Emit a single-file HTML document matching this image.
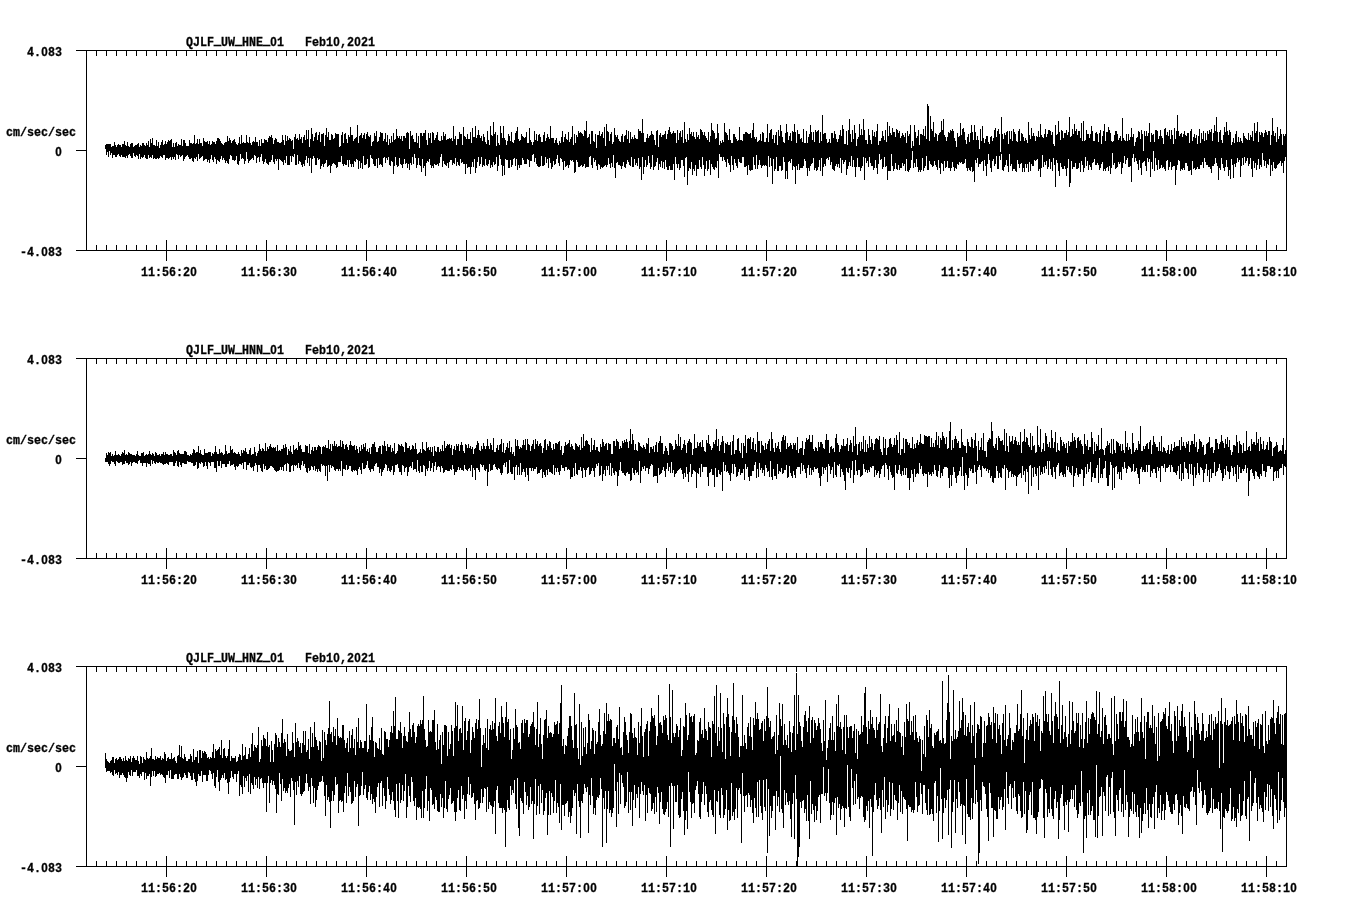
<!DOCTYPE html>
<html lang="en"><head><meta charset="utf-8"><title>QJLF UW strong motion Feb10,2021</title>
<style>
html,body{margin:0;padding:0;background:#fff;}
body{width:1358px;height:924px;overflow:hidden;}
svg{display:block;filter:grayscale(1);}
text{font-family:"Liberation Mono", monospace;font-weight:bold;fill:#000;text-anchor:middle;stroke:#000;stroke-width:0.3;}
.z{font-family:"Liberation Sans",sans-serif;}
.u{stroke-width:1;}
.ax{fill:#000;shape-rendering:crispEdges;}
.tr{fill:none;stroke:#000;stroke-width:1;shape-rendering:crispEdges;}
</style></head>
<body>
<svg width="1358" height="924" viewBox="0 0 1358 924">
<rect width="1358" height="924" fill="#fff"/>
<g id="panel-hne">
<path class="ax" d="M76 50h1211v1h-1211zM76 250h1211v1h-1211zM86 50h1v201h-1zM1286 50h1v201h-1zM76 150h10v1h-10zM96 51h1v5h-1zM96 245h1v5h-1zM106 51h1v5h-1zM106 245h1v5h-1zM116 51h1v5h-1zM116 245h1v5h-1zM126 51h1v5h-1zM126 245h1v5h-1zM136 51h1v5h-1zM136 245h1v5h-1zM146 51h1v5h-1zM146 245h1v5h-1zM156 51h1v5h-1zM156 245h1v5h-1zM166 51h1v5h-1zM166 240h1v21h-1zM176 51h1v5h-1zM176 245h1v5h-1zM186 51h1v5h-1zM186 245h1v5h-1zM196 51h1v5h-1zM196 245h1v5h-1zM206 51h1v5h-1zM206 245h1v5h-1zM216 51h1v5h-1zM216 245h1v5h-1zM226 51h1v5h-1zM226 245h1v5h-1zM236 51h1v5h-1zM236 245h1v5h-1zM246 51h1v5h-1zM246 245h1v5h-1zM256 51h1v5h-1zM256 245h1v5h-1zM266 51h1v5h-1zM266 240h1v21h-1zM276 51h1v5h-1zM276 245h1v5h-1zM286 51h1v5h-1zM286 245h1v5h-1zM296 51h1v5h-1zM296 245h1v5h-1zM306 51h1v5h-1zM306 245h1v5h-1zM316 51h1v5h-1zM316 245h1v5h-1zM326 51h1v5h-1zM326 245h1v5h-1zM336 51h1v5h-1zM336 245h1v5h-1zM346 51h1v5h-1zM346 245h1v5h-1zM356 51h1v5h-1zM356 245h1v5h-1zM366 51h1v5h-1zM366 240h1v21h-1zM376 51h1v5h-1zM376 245h1v5h-1zM386 51h1v5h-1zM386 245h1v5h-1zM396 51h1v5h-1zM396 245h1v5h-1zM406 51h1v5h-1zM406 245h1v5h-1zM416 51h1v5h-1zM416 245h1v5h-1zM426 51h1v5h-1zM426 245h1v5h-1zM436 51h1v5h-1zM436 245h1v5h-1zM446 51h1v5h-1zM446 245h1v5h-1zM456 51h1v5h-1zM456 245h1v5h-1zM466 51h1v5h-1zM466 240h1v21h-1zM476 51h1v5h-1zM476 245h1v5h-1zM486 51h1v5h-1zM486 245h1v5h-1zM496 51h1v5h-1zM496 245h1v5h-1zM506 51h1v5h-1zM506 245h1v5h-1zM516 51h1v5h-1zM516 245h1v5h-1zM526 51h1v5h-1zM526 245h1v5h-1zM536 51h1v5h-1zM536 245h1v5h-1zM546 51h1v5h-1zM546 245h1v5h-1zM556 51h1v5h-1zM556 245h1v5h-1zM566 51h1v5h-1zM566 240h1v21h-1zM576 51h1v5h-1zM576 245h1v5h-1zM586 51h1v5h-1zM586 245h1v5h-1zM596 51h1v5h-1zM596 245h1v5h-1zM606 51h1v5h-1zM606 245h1v5h-1zM616 51h1v5h-1zM616 245h1v5h-1zM626 51h1v5h-1zM626 245h1v5h-1zM636 51h1v5h-1zM636 245h1v5h-1zM646 51h1v5h-1zM646 245h1v5h-1zM656 51h1v5h-1zM656 245h1v5h-1zM666 51h1v5h-1zM666 240h1v21h-1zM676 51h1v5h-1zM676 245h1v5h-1zM686 51h1v5h-1zM686 245h1v5h-1zM696 51h1v5h-1zM696 245h1v5h-1zM706 51h1v5h-1zM706 245h1v5h-1zM716 51h1v5h-1zM716 245h1v5h-1zM726 51h1v5h-1zM726 245h1v5h-1zM736 51h1v5h-1zM736 245h1v5h-1zM746 51h1v5h-1zM746 245h1v5h-1zM756 51h1v5h-1zM756 245h1v5h-1zM766 51h1v5h-1zM766 240h1v21h-1zM776 51h1v5h-1zM776 245h1v5h-1zM786 51h1v5h-1zM786 245h1v5h-1zM796 51h1v5h-1zM796 245h1v5h-1zM806 51h1v5h-1zM806 245h1v5h-1zM816 51h1v5h-1zM816 245h1v5h-1zM826 51h1v5h-1zM826 245h1v5h-1zM836 51h1v5h-1zM836 245h1v5h-1zM846 51h1v5h-1zM846 245h1v5h-1zM856 51h1v5h-1zM856 245h1v5h-1zM866 51h1v5h-1zM866 240h1v21h-1zM876 51h1v5h-1zM876 245h1v5h-1zM886 51h1v5h-1zM886 245h1v5h-1zM896 51h1v5h-1zM896 245h1v5h-1zM906 51h1v5h-1zM906 245h1v5h-1zM916 51h1v5h-1zM916 245h1v5h-1zM926 51h1v5h-1zM926 245h1v5h-1zM936 51h1v5h-1zM936 245h1v5h-1zM946 51h1v5h-1zM946 245h1v5h-1zM956 51h1v5h-1zM956 245h1v5h-1zM966 51h1v5h-1zM966 240h1v21h-1zM976 51h1v5h-1zM976 245h1v5h-1zM986 51h1v5h-1zM986 245h1v5h-1zM996 51h1v5h-1zM996 245h1v5h-1zM1006 51h1v5h-1zM1006 245h1v5h-1zM1016 51h1v5h-1zM1016 245h1v5h-1zM1026 51h1v5h-1zM1026 245h1v5h-1zM1036 51h1v5h-1zM1036 245h1v5h-1zM1046 51h1v5h-1zM1046 245h1v5h-1zM1056 51h1v5h-1zM1056 245h1v5h-1zM1066 51h1v5h-1zM1066 240h1v21h-1zM1076 51h1v5h-1zM1076 245h1v5h-1zM1086 51h1v5h-1zM1086 245h1v5h-1zM1096 51h1v5h-1zM1096 245h1v5h-1zM1106 51h1v5h-1zM1106 245h1v5h-1zM1116 51h1v5h-1zM1116 245h1v5h-1zM1126 51h1v5h-1zM1126 245h1v5h-1zM1136 51h1v5h-1zM1136 245h1v5h-1zM1146 51h1v5h-1zM1146 245h1v5h-1zM1156 51h1v5h-1zM1156 245h1v5h-1zM1166 51h1v5h-1zM1166 240h1v21h-1zM1176 51h1v5h-1zM1176 245h1v5h-1zM1186 51h1v5h-1zM1186 245h1v5h-1zM1196 51h1v5h-1zM1196 245h1v5h-1zM1206 51h1v5h-1zM1206 245h1v5h-1zM1216 51h1v5h-1zM1216 245h1v5h-1zM1226 51h1v5h-1zM1226 245h1v5h-1zM1236 51h1v5h-1zM1236 245h1v5h-1zM1246 51h1v5h-1zM1246 245h1v5h-1zM1256 51h1v5h-1zM1256 245h1v5h-1zM1266 51h1v5h-1zM1266 240h1v21h-1zM1276 51h1v5h-1zM1276 245h1v5h-1z"/>
<path class="tr" d="M105.5 145V149M106.5 144V155M107.5 144V152M108.5 144V157M109.5 144V151M110.5 144V155M111.5 147V153M112.5 146V158M113.5 146V155M114.5 142V155M115.5 145V157M116.5 147V157M117.5 145V155M118.5 144V154M119.5 145V156M120.5 145V157M121.5 147V155M122.5 144V157M123.5 144V157M124.5 141V157M125.5 145V158M126.5 146V156M127.5 142V158M128.5 146V155M129.5 147V154M130.5 144V156M131.5 143V158M132.5 143V158M133.5 147V153M134.5 146V156M135.5 145V157M136.5 145V155M137.5 144V156M138.5 143V159M139.5 147V154M140.5 145V159M141.5 146V157M142.5 143V158M143.5 143V157M144.5 145V155M145.5 146V158M146.5 143V159M147.5 145V159M148.5 141V155M149.5 147V158M150.5 139V157M151.5 143V158M152.5 138V155M153.5 145V159M154.5 145V158M155.5 146V159M156.5 140V159M157.5 146V158M158.5 142V159M159.5 148V158M160.5 145V156M161.5 142V157M162.5 140V158M163.5 145V155M164.5 144V155M165.5 141V160M166.5 144V158M167.5 142V158M168.5 140V159M169.5 141V158M170.5 140V157M171.5 139V160M172.5 147V157M173.5 143V159M174.5 147V157M175.5 143V160M176.5 142V154M177.5 146V155M178.5 144V159M179.5 145V155M180.5 145V157M181.5 139V156M182.5 146V155M183.5 140V161M184.5 140V159M185.5 143V157M186.5 146V156M187.5 146V155M188.5 146V157M189.5 140V159M190.5 143V159M191.5 143V158M192.5 144V161M193.5 143V162M194.5 135V158M195.5 144V159M196.5 143V157M197.5 139V161M198.5 144V154M199.5 139V159M200.5 143V158M201.5 143V157M202.5 146V156M203.5 138V161M204.5 141V160M205.5 142V159M206.5 142V159M207.5 141V162M208.5 144V160M209.5 141V163M210.5 145V159M211.5 144V155M212.5 141V160M213.5 142V162M214.5 142V157M215.5 144V159M216.5 141V164M217.5 138V160M218.5 138V161M219.5 139V162M220.5 141V159M221.5 143V156M222.5 144V160M223.5 145V158M224.5 143V160M225.5 142V163M226.5 142V161M227.5 136V163M228.5 141V164M229.5 138V159M230.5 140V155M231.5 143V156M232.5 141V160M233.5 140V160M234.5 139V161M235.5 142V160M236.5 144V156M237.5 145V164M238.5 143V165M239.5 137V161M240.5 144V154M241.5 135V159M242.5 143V158M243.5 142V159M244.5 143V164M245.5 143V161M246.5 135V152M247.5 142V159M248.5 143V163M249.5 137V161M250.5 143V160M251.5 145V159M252.5 142V158M253.5 141V160M254.5 142V155M255.5 137V156M256.5 142V163M257.5 142V158M258.5 146V157M259.5 140V162M260.5 146V157M261.5 139V154M262.5 143V161M263.5 143V164M264.5 139V162M265.5 140V159M266.5 140V163M267.5 142V164M268.5 138V165M269.5 136V162M270.5 137V162M271.5 135V160M272.5 138V155M273.5 144V162M274.5 140V164M275.5 138V159M276.5 139V161M277.5 142V159M278.5 142V170M279.5 143V159M280.5 143V160M281.5 142V161M282.5 135V162M283.5 140V165M284.5 145V160M285.5 135V163M286.5 141V156M287.5 136V165M288.5 140V165M289.5 138V165M290.5 139V156M291.5 141V162M292.5 140V156M293.5 149V157M294.5 137V154M295.5 134V165M296.5 139V165M297.5 138V155M298.5 140V164M299.5 134V161M300.5 139V162M301.5 137V165M302.5 143V167M303.5 137V164M304.5 135V166M305.5 140V160M306.5 130V156M307.5 139V163M308.5 130V158M309.5 147V166M310.5 139V158M311.5 128V173M312.5 134V159M313.5 141V156M314.5 137V158M315.5 133V165M316.5 132V165M317.5 140V158M318.5 135V160M319.5 132V159M320.5 142V169M321.5 134V166M322.5 134V164M323.5 133V167M324.5 146V164M325.5 135V163M326.5 128V160M327.5 137V167M328.5 132V166M329.5 140V165M330.5 140V173M331.5 134V166M332.5 135V164M333.5 139V163M334.5 138V164M335.5 133V165M336.5 134V168M337.5 134V167M338.5 134V162M339.5 147V162M340.5 146V162M341.5 135V156M342.5 132V164M343.5 143V166M344.5 134V164M345.5 133V165M346.5 139V165M347.5 143V160M348.5 135V167M349.5 137V160M350.5 127V164M351.5 135V167M352.5 135V164M353.5 141V167M354.5 139V161M355.5 138V162M356.5 137V159M357.5 125V160M358.5 143V169M359.5 136V161M360.5 135V168M361.5 133V163M362.5 138V169M363.5 135V156M364.5 133V165M365.5 139V165M366.5 134V164M367.5 132V159M368.5 136V168M369.5 137V167M370.5 135V155M371.5 146V158M372.5 142V159M373.5 141V164M374.5 133V166M375.5 136V166M376.5 131V159M377.5 142V168M378.5 141V158M379.5 137V165M380.5 132V164M381.5 133V165M382.5 133V167M383.5 141V158M384.5 139V157M385.5 133V163M386.5 142V158M387.5 135V160M388.5 145V157M389.5 139V165M390.5 143V166M391.5 136V161M392.5 142V162M393.5 133V174M394.5 140V166M395.5 139V157M396.5 129V165M397.5 136V167M398.5 138V166M399.5 136V158M400.5 139V164M401.5 136V165M402.5 141V168M403.5 136V164M404.5 136V159M405.5 138V164M406.5 133V163M407.5 132V168M408.5 133V164M409.5 149V170M410.5 131V163M411.5 136V165M412.5 135V157M413.5 139V164M414.5 142V154M415.5 142V158M416.5 133V168M417.5 143V165M418.5 136V158M419.5 148V165M420.5 133V166M421.5 133V172M422.5 136V159M423.5 133V168M424.5 133V166M425.5 130V176M426.5 140V163M427.5 145V161M428.5 133V162M429.5 138V159M430.5 133V165M431.5 143V168M432.5 132V166M433.5 133V168M434.5 140V164M435.5 138V165M436.5 135V165M437.5 132V164M438.5 140V166M439.5 141V163M440.5 141V157M441.5 136V154M442.5 140V167M443.5 132V161M444.5 136V164M445.5 134V165M446.5 140V166M447.5 139V163M448.5 139V168M449.5 138V162M450.5 139V160M451.5 138V160M452.5 141V165M453.5 126V163M454.5 139V164M455.5 136V158M456.5 145V166M457.5 139V162M458.5 139V165M459.5 132V166M460.5 134V159M461.5 134V163M462.5 145V162M463.5 127V164M464.5 136V164M465.5 137V174M466.5 139V164M467.5 134V168M468.5 139V167M469.5 139V167M470.5 132V174M471.5 143V167M472.5 128V162M473.5 137V167M474.5 137V159M475.5 126V173M476.5 138V168M477.5 135V162M478.5 130V157M479.5 135V166M480.5 138V164M481.5 136V157M482.5 141V167M483.5 134V165M484.5 137V166M485.5 142V159M486.5 144V165M487.5 131V166M488.5 140V164M489.5 145V160M490.5 126V168M491.5 135V165M492.5 136V167M493.5 122V162M494.5 134V165M495.5 132V164M496.5 146V157M497.5 135V171M498.5 143V166M499.5 145V155M500.5 126V159M501.5 133V165M502.5 138V176M503.5 126V166M504.5 138V175M505.5 140V159M506.5 145V160M507.5 141V160M508.5 134V168M509.5 136V168M510.5 141V160M511.5 132V167M512.5 142V165M513.5 143V159M514.5 140V158M515.5 133V166M516.5 131V159M517.5 127V170M518.5 139V165M519.5 141V168M520.5 140V165M521.5 134V165M522.5 136V158M523.5 137V160M524.5 138V164M525.5 137V164M526.5 132V164M527.5 143V159M528.5 143V160M529.5 128V167M530.5 140V161M531.5 142V161M532.5 145V155M533.5 142V154M534.5 131V162M535.5 140V158M536.5 134V164M537.5 141V166M538.5 135V167M539.5 134V167M540.5 137V166M541.5 142V156M542.5 142V166M543.5 135V166M544.5 132V165M545.5 141V157M546.5 138V163M547.5 134V159M548.5 137V168M549.5 139V158M550.5 126V163M551.5 138V169M552.5 138V167M553.5 138V161M554.5 143V165M555.5 140V164M556.5 138V159M557.5 143V155M558.5 145V163M559.5 141V166M560.5 143V158M561.5 137V159M562.5 131V162M563.5 142V170M564.5 137V161M565.5 134V167M566.5 139V166M567.5 140V165M568.5 132V168M569.5 142V165M570.5 139V160M571.5 137V161M572.5 126V160M573.5 145V162M574.5 134V173M575.5 143V172M576.5 135V160M577.5 137V162M578.5 131V167M579.5 133V167M580.5 132V166M581.5 133V165M582.5 134V167M583.5 136V166M584.5 130V164M585.5 131V168M586.5 121V167M587.5 138V167M588.5 137V167M589.5 134V157M590.5 144V156M591.5 131V165M592.5 131V168M593.5 141V158M594.5 142V162M595.5 134V160M596.5 148V166M597.5 135V170M598.5 135V164M599.5 131V165M600.5 136V169M601.5 134V167M602.5 132V168M603.5 138V167M604.5 127V166M605.5 146V165M606.5 124V167M607.5 131V165M608.5 132V158M609.5 141V164M610.5 134V168M611.5 132V163M612.5 144V167M613.5 142V155M614.5 128V168M615.5 135V178M616.5 137V163M617.5 135V162M618.5 139V165M619.5 141V165M620.5 142V166M621.5 136V169M622.5 134V166M623.5 142V162M624.5 136V167M625.5 135V168M626.5 130V164M627.5 139V160M628.5 131V162M629.5 143V165M630.5 132V166M631.5 139V157M632.5 137V167M633.5 139V167M634.5 135V159M635.5 138V165M636.5 139V163M637.5 139V166M638.5 129V158M639.5 131V169M640.5 131V167M641.5 133V180M642.5 119V157M643.5 133V174M644.5 142V167M645.5 142V160M646.5 138V167M647.5 134V165M648.5 138V156M649.5 136V163M650.5 135V169M651.5 131V167M652.5 134V155M653.5 135V170M654.5 140V167M655.5 145V166M656.5 131V162M657.5 130V158M658.5 147V170M659.5 135V164M660.5 133V167M661.5 137V161M662.5 135V168M663.5 135V162M664.5 134V169M665.5 131V160M666.5 139V167M667.5 134V170M668.5 130V170M669.5 127V166M670.5 132V170M671.5 134V170M672.5 133V170M673.5 131V164M674.5 133V180M675.5 133V157M676.5 143V164M677.5 130V168M678.5 140V164M679.5 133V170M680.5 131V168M681.5 137V160M682.5 130V160M683.5 143V166M684.5 122V177M685.5 139V158M686.5 142V157M687.5 134V185M688.5 140V171M689.5 128V168M690.5 134V169M691.5 132V162M692.5 136V175M693.5 132V169M694.5 137V171M695.5 139V165M696.5 132V176M697.5 137V169M698.5 135V169M699.5 139V160M700.5 129V167M701.5 130V169M702.5 132V157M703.5 135V165M704.5 132V176M705.5 136V169M706.5 138V161M707.5 140V171M708.5 132V169M709.5 142V160M710.5 136V175M711.5 123V164M712.5 130V167M713.5 131V169M714.5 133V170M715.5 139V167M716.5 138V168M717.5 124V161M718.5 133V178M719.5 145V154M720.5 141V157M721.5 143V157M722.5 140V161M723.5 142V157M724.5 123V160M725.5 132V162M726.5 133V167M727.5 135V159M728.5 140V163M729.5 129V165M730.5 140V172M731.5 143V156M732.5 143V165M733.5 134V170M734.5 134V159M735.5 137V163M736.5 139V166M737.5 141V168M738.5 140V159M739.5 127V162M740.5 140V163M741.5 140V163M742.5 141V157M743.5 134V157M744.5 134V167M745.5 132V167M746.5 132V166M747.5 133V175M748.5 134V165M749.5 134V170M750.5 133V171M751.5 138V170M752.5 130V170M753.5 123V157M754.5 137V165M755.5 139V169M756.5 137V155M757.5 142V169M758.5 141V165M759.5 140V160M760.5 134V165M761.5 141V168M762.5 132V166M763.5 133V165M764.5 142V166M765.5 142V165M766.5 138V166M767.5 124V177M768.5 142V156M769.5 133V167M770.5 130V158M771.5 129V166M772.5 139V184M773.5 135V159M774.5 143V171M775.5 135V169M776.5 132V157M777.5 145V171M778.5 130V171M779.5 136V166M780.5 125V166M781.5 131V171M782.5 137V170M783.5 142V157M784.5 143V162M785.5 133V179M786.5 124V171M787.5 132V179M788.5 140V162M789.5 136V161M790.5 133V163M791.5 141V159M792.5 131V170M793.5 132V166M794.5 124V167M795.5 132V184M796.5 143V166M797.5 130V170M798.5 134V164M799.5 134V170M800.5 139V168M801.5 138V168M802.5 142V168M803.5 129V166M804.5 143V159M805.5 143V161M806.5 131V168M807.5 143V176M808.5 137V168M809.5 134V171M810.5 125V166M811.5 132V164M812.5 140V163M813.5 132V158M814.5 142V170M815.5 130V168M816.5 132V171M817.5 131V170M818.5 130V167M819.5 143V160M820.5 132V171M821.5 141V158M822.5 115V176M823.5 134V167M824.5 133V164M825.5 133V166M826.5 139V159M827.5 143V158M828.5 142V160M829.5 139V157M830.5 143V165M831.5 133V162M832.5 133V169M833.5 138V170M834.5 131V171M835.5 134V166M836.5 139V164M837.5 142V167M838.5 139V164M839.5 135V168M840.5 130V158M841.5 136V173M842.5 125V160M843.5 129V164M844.5 144V162M845.5 144V160M846.5 131V175M847.5 145V169M848.5 130V166M849.5 119V162M850.5 134V166M851.5 142V156M852.5 130V167M853.5 139V160M854.5 125V167M855.5 133V177M856.5 146V167M857.5 139V158M858.5 137V167M859.5 124V167M860.5 135V171M861.5 129V168M862.5 135V166M863.5 119V157M864.5 130V180M865.5 140V158M866.5 140V163M867.5 144V161M868.5 129V167M869.5 135V157M870.5 140V163M871.5 144V166M872.5 130V166M873.5 136V170M874.5 132V168M875.5 137V160M876.5 131V168M877.5 124V174M878.5 145V164M879.5 141V154M880.5 141V160M881.5 138V159M882.5 131V169M883.5 136V167M884.5 140V157M885.5 130V167M886.5 142V166M887.5 122V180M888.5 136V171M889.5 126V171M890.5 133V171M891.5 135V154M892.5 128V166M893.5 132V171M894.5 132V169M895.5 137V163M896.5 129V169M897.5 130V170M898.5 133V165M899.5 131V170M900.5 138V168M901.5 136V168M902.5 133V163M903.5 135V166M904.5 137V164M905.5 133V171M906.5 143V159M907.5 131V171M908.5 136V172M909.5 134V170M910.5 125V168M911.5 148V160M912.5 141V151M913.5 146V168M914.5 125V163M915.5 132V167M916.5 138V159M917.5 136V167M918.5 130V172M919.5 145V170M920.5 134V172M921.5 134V170M922.5 135V158M923.5 129V171M924.5 136V168M925.5 126V166M926.5 139V156M927.5 104V170M928.5 106V170M929.5 141V161M930.5 116V164M931.5 129V165M932.5 131V167M933.5 122V166M934.5 137V161M935.5 133V165M936.5 134V167M937.5 141V170M938.5 135V160M939.5 133V168M940.5 132V174M941.5 121V163M942.5 130V164M943.5 119V171M944.5 135V161M945.5 137V168M946.5 141V167M947.5 137V161M948.5 132V168M949.5 133V168M950.5 130V171M951.5 131V168M952.5 129V162M953.5 131V167M954.5 138V171M955.5 141V168M956.5 147V169M957.5 133V164M958.5 137V165M959.5 136V162M960.5 123V163M961.5 135V162M962.5 129V164M963.5 128V164M964.5 132V163M965.5 140V159M966.5 144V168M967.5 137V171M968.5 134V168M969.5 142V170M970.5 133V171M971.5 125V167M972.5 132V172M973.5 140V171M974.5 125V182M975.5 132V160M976.5 140V163M977.5 136V158M978.5 140V167M979.5 149V164M980.5 129V164M981.5 141V162M982.5 126V161M983.5 138V171M984.5 143V160M985.5 139V166M986.5 136V176M987.5 136V164M988.5 142V154M989.5 144V160M990.5 137V168M991.5 136V172M992.5 141V161M993.5 138V159M994.5 130V166M995.5 128V164M996.5 137V156M997.5 131V169M998.5 129V169M999.5 134V156M1000.5 152V160M1001.5 117V154M1002.5 134V170M1003.5 139V171M1004.5 133V167M1005.5 135V165M1006.5 132V160M1007.5 131V166M1008.5 144V172M1009.5 131V154M1010.5 139V166M1011.5 131V164M1012.5 141V171M1013.5 129V169M1014.5 132V169M1015.5 134V171M1016.5 141V172M1017.5 142V160M1018.5 131V164M1019.5 129V168M1020.5 141V164M1021.5 133V163M1022.5 134V172M1023.5 137V168M1024.5 141V172M1025.5 138V164M1026.5 140V168M1027.5 143V164M1028.5 122V172M1029.5 135V162M1030.5 139V171M1031.5 128V164M1032.5 136V166M1033.5 133V166M1034.5 136V160M1035.5 141V161M1036.5 136V160M1037.5 137V159M1038.5 131V171M1039.5 137V169M1040.5 124V177M1041.5 135V168M1042.5 137V155M1043.5 138V167M1044.5 134V162M1045.5 129V165M1046.5 137V161M1047.5 134V169M1048.5 130V167M1049.5 130V159M1050.5 131V169M1051.5 135V162M1052.5 132V171M1053.5 144V158M1054.5 146V165M1055.5 125V187M1056.5 135V160M1057.5 134V163M1058.5 121V171M1059.5 132V176M1060.5 140V163M1061.5 130V167M1062.5 131V169M1063.5 138V169M1064.5 133V166M1065.5 133V169M1066.5 130V176M1067.5 135V168M1068.5 132V159M1069.5 117V187M1070.5 137V183M1071.5 136V161M1072.5 129V169M1073.5 134V167M1074.5 124V167M1075.5 131V163M1076.5 129V169M1077.5 135V169M1078.5 131V168M1079.5 131V163M1080.5 138V172M1081.5 123V161M1082.5 141V165M1083.5 121V172M1084.5 141V168M1085.5 140V157M1086.5 130V166M1087.5 134V161M1088.5 134V170M1089.5 138V165M1090.5 134V167M1091.5 126V170M1092.5 131V163M1093.5 141V162M1094.5 141V159M1095.5 133V165M1096.5 132V165M1097.5 134V163M1098.5 142V165M1099.5 133V170M1100.5 130V168M1101.5 144V164M1102.5 136V162M1103.5 131V171M1104.5 124V169M1105.5 141V171M1106.5 132V168M1107.5 132V167M1108.5 127V171M1109.5 130V166M1110.5 133V174M1111.5 141V168M1112.5 142V153M1113.5 141V165M1114.5 135V163M1115.5 131V169M1116.5 131V168M1117.5 134V167M1118.5 140V162M1119.5 138V164M1120.5 136V162M1121.5 141V174M1122.5 118V168M1123.5 138V163M1124.5 140V156M1125.5 141V164M1126.5 134V160M1127.5 141V158M1128.5 134V167M1129.5 140V167M1130.5 137V166M1131.5 128V182M1132.5 137V158M1133.5 134V154M1134.5 146V162M1135.5 142V158M1136.5 138V161M1137.5 137V164M1138.5 131V170M1139.5 132V160M1140.5 139V168M1141.5 130V175M1142.5 134V163M1143.5 151V162M1144.5 131V161M1145.5 136V166M1146.5 131V171M1147.5 136V158M1148.5 133V162M1149.5 123V159M1150.5 142V177M1151.5 133V162M1152.5 135V169M1153.5 134V151M1154.5 142V171M1155.5 130V158M1156.5 130V165M1157.5 131V170M1158.5 139V160M1159.5 136V169M1160.5 130V168M1161.5 136V165M1162.5 138V168M1163.5 144V167M1164.5 129V169M1165.5 128V171M1166.5 135V161M1167.5 132V160M1168.5 136V170M1169.5 130V167M1170.5 139V162M1171.5 130V170M1172.5 135V167M1173.5 144V166M1174.5 128V166M1175.5 139V185M1176.5 131V170M1177.5 115V165M1178.5 131V160M1179.5 136V161M1180.5 134V171M1181.5 133V169M1182.5 137V170M1183.5 134V168M1184.5 131V170M1185.5 135V163M1186.5 136V163M1187.5 133V166M1188.5 133V171M1189.5 143V171M1190.5 131V170M1191.5 129V175M1192.5 141V161M1193.5 137V169M1194.5 134V168M1195.5 138V170M1196.5 135V169M1197.5 144V167M1198.5 136V169M1199.5 129V169M1200.5 143V165M1201.5 133V165M1202.5 139V162M1203.5 131V168M1204.5 141V158M1205.5 133V162M1206.5 140V165M1207.5 131V165M1208.5 134V167M1209.5 130V167M1210.5 132V169M1211.5 129V173M1212.5 141V166M1213.5 133V166M1214.5 125V164M1215.5 131V158M1216.5 117V163M1217.5 132V166M1218.5 142V180M1219.5 132V168M1220.5 130V170M1221.5 140V158M1222.5 143V164M1223.5 135V168M1224.5 127V171M1225.5 132V167M1226.5 122V160M1227.5 131V167M1228.5 135V176M1229.5 130V170M1230.5 132V179M1231.5 145V159M1232.5 142V165M1233.5 138V178M1234.5 143V164M1235.5 134V167M1236.5 131V163M1237.5 142V158M1238.5 137V162M1239.5 142V160M1240.5 138V177M1241.5 141V166M1242.5 143V158M1243.5 133V165M1244.5 136V157M1245.5 138V163M1246.5 139V161M1247.5 140V158M1248.5 133V166M1249.5 140V164M1250.5 135V158M1251.5 137V169M1252.5 131V177M1253.5 141V161M1254.5 123V168M1255.5 133V163M1256.5 131V170M1257.5 122V165M1258.5 142V159M1259.5 132V169M1260.5 135V165M1261.5 132V167M1262.5 133V153M1263.5 137V160M1264.5 133V166M1265.5 130V161M1266.5 132V168M1267.5 135V164M1268.5 131V165M1269.5 131V159M1270.5 145V176M1271.5 135V165M1272.5 118V171M1273.5 131V162M1274.5 136V168M1275.5 133V169M1276.5 142V168M1277.5 127V165M1278.5 139V164M1279.5 136V163M1280.5 129V161M1281.5 134V166M1282.5 145V163M1283.5 134V173M1284.5 136V161M1285.5 134V157M1286.5 141V167"/>
<text transform="translate(186 46) scale(0.858 1)" font-size="13.6" x="4.08 12.24 20.4 28.55 36.71 44.87 53.03 61.19 69.35 77.51 85.66 93.82 101.98 110.14 118.3 126.46 134.62 142.77 150.93 159.09 167.25 175.41 183.57 191.72 199.88 208.04 216.2" y="0 0 0 0 -1.6 0 0 -1.6 0 0 0 -1.6 0 0 0 0 0 0 0 0 0 0 0 0 0 0 0">QJLF<tspan class="u">_</tspan>UW<tspan class="u">_</tspan>HNE<tspan class="u">_</tspan><tspan class="z">0</tspan>1&#160;&#160;&#160;Feb1<tspan class="z">0</tspan>,2<tspan class="z">0</tspan>21</text>
<text transform="translate(27 56) scale(0.858 1)" font-size="13.6" x="4.08 12.24 20.4 28.55 36.71">4.<tspan class="z">0</tspan>83</text>
<text transform="translate(20 256) scale(0.858 1)" font-size="13.6" x="4.08 12.24 20.4 28.55 36.71 44.87">-4.<tspan class="z">0</tspan>83</text>
<text transform="translate(55 156) scale(0.858 1)" font-size="13.6" x="4.08"><tspan class="z">0</tspan></text>
<text transform="translate(6 136) scale(0.858 1)" font-size="13.6" x="4.08 12.24 20.4 28.55 36.71 44.87 53.03 61.19 69.35 77.51">cm/sec/sec</text>
<text transform="translate(141 276) scale(0.858 1)" font-size="13.6" x="4.08 12.24 20.4 28.55 36.71 44.87 53.03 61.19">11:56:2<tspan class="z">0</tspan></text>
<text transform="translate(241 276) scale(0.858 1)" font-size="13.6" x="4.08 12.24 20.4 28.55 36.71 44.87 53.03 61.19">11:56:3<tspan class="z">0</tspan></text>
<text transform="translate(341 276) scale(0.858 1)" font-size="13.6" x="4.08 12.24 20.4 28.55 36.71 44.87 53.03 61.19">11:56:4<tspan class="z">0</tspan></text>
<text transform="translate(441 276) scale(0.858 1)" font-size="13.6" x="4.08 12.24 20.4 28.55 36.71 44.87 53.03 61.19">11:56:5<tspan class="z">0</tspan></text>
<text transform="translate(541 276) scale(0.858 1)" font-size="13.6" x="4.08 12.24 20.4 28.55 36.71 44.87 53.03 61.19">11:57:<tspan class="z">0</tspan><tspan class="z">0</tspan></text>
<text transform="translate(641 276) scale(0.858 1)" font-size="13.6" x="4.08 12.24 20.4 28.55 36.71 44.87 53.03 61.19">11:57:1<tspan class="z">0</tspan></text>
<text transform="translate(741 276) scale(0.858 1)" font-size="13.6" x="4.08 12.24 20.4 28.55 36.71 44.87 53.03 61.19">11:57:2<tspan class="z">0</tspan></text>
<text transform="translate(841 276) scale(0.858 1)" font-size="13.6" x="4.08 12.24 20.4 28.55 36.71 44.87 53.03 61.19">11:57:3<tspan class="z">0</tspan></text>
<text transform="translate(941 276) scale(0.858 1)" font-size="13.6" x="4.08 12.24 20.4 28.55 36.71 44.87 53.03 61.19">11:57:4<tspan class="z">0</tspan></text>
<text transform="translate(1041 276) scale(0.858 1)" font-size="13.6" x="4.08 12.24 20.4 28.55 36.71 44.87 53.03 61.19">11:57:5<tspan class="z">0</tspan></text>
<text transform="translate(1141 276) scale(0.858 1)" font-size="13.6" x="4.08 12.24 20.4 28.55 36.71 44.87 53.03 61.19">11:58:<tspan class="z">0</tspan><tspan class="z">0</tspan></text>
<text transform="translate(1241 276) scale(0.858 1)" font-size="13.6" x="4.08 12.24 20.4 28.55 36.71 44.87 53.03 61.19">11:58:1<tspan class="z">0</tspan></text>
</g>
<g id="panel-hnn">
<path class="ax" d="M76 358h1211v1h-1211zM76 558h1211v1h-1211zM86 358h1v201h-1zM1286 358h1v201h-1zM76 458h10v1h-10zM96 359h1v5h-1zM96 553h1v5h-1zM106 359h1v5h-1zM106 553h1v5h-1zM116 359h1v5h-1zM116 553h1v5h-1zM126 359h1v5h-1zM126 553h1v5h-1zM136 359h1v5h-1zM136 553h1v5h-1zM146 359h1v5h-1zM146 553h1v5h-1zM156 359h1v5h-1zM156 553h1v5h-1zM166 359h1v5h-1zM166 548h1v21h-1zM176 359h1v5h-1zM176 553h1v5h-1zM186 359h1v5h-1zM186 553h1v5h-1zM196 359h1v5h-1zM196 553h1v5h-1zM206 359h1v5h-1zM206 553h1v5h-1zM216 359h1v5h-1zM216 553h1v5h-1zM226 359h1v5h-1zM226 553h1v5h-1zM236 359h1v5h-1zM236 553h1v5h-1zM246 359h1v5h-1zM246 553h1v5h-1zM256 359h1v5h-1zM256 553h1v5h-1zM266 359h1v5h-1zM266 548h1v21h-1zM276 359h1v5h-1zM276 553h1v5h-1zM286 359h1v5h-1zM286 553h1v5h-1zM296 359h1v5h-1zM296 553h1v5h-1zM306 359h1v5h-1zM306 553h1v5h-1zM316 359h1v5h-1zM316 553h1v5h-1zM326 359h1v5h-1zM326 553h1v5h-1zM336 359h1v5h-1zM336 553h1v5h-1zM346 359h1v5h-1zM346 553h1v5h-1zM356 359h1v5h-1zM356 553h1v5h-1zM366 359h1v5h-1zM366 548h1v21h-1zM376 359h1v5h-1zM376 553h1v5h-1zM386 359h1v5h-1zM386 553h1v5h-1zM396 359h1v5h-1zM396 553h1v5h-1zM406 359h1v5h-1zM406 553h1v5h-1zM416 359h1v5h-1zM416 553h1v5h-1zM426 359h1v5h-1zM426 553h1v5h-1zM436 359h1v5h-1zM436 553h1v5h-1zM446 359h1v5h-1zM446 553h1v5h-1zM456 359h1v5h-1zM456 553h1v5h-1zM466 359h1v5h-1zM466 548h1v21h-1zM476 359h1v5h-1zM476 553h1v5h-1zM486 359h1v5h-1zM486 553h1v5h-1zM496 359h1v5h-1zM496 553h1v5h-1zM506 359h1v5h-1zM506 553h1v5h-1zM516 359h1v5h-1zM516 553h1v5h-1zM526 359h1v5h-1zM526 553h1v5h-1zM536 359h1v5h-1zM536 553h1v5h-1zM546 359h1v5h-1zM546 553h1v5h-1zM556 359h1v5h-1zM556 553h1v5h-1zM566 359h1v5h-1zM566 548h1v21h-1zM576 359h1v5h-1zM576 553h1v5h-1zM586 359h1v5h-1zM586 553h1v5h-1zM596 359h1v5h-1zM596 553h1v5h-1zM606 359h1v5h-1zM606 553h1v5h-1zM616 359h1v5h-1zM616 553h1v5h-1zM626 359h1v5h-1zM626 553h1v5h-1zM636 359h1v5h-1zM636 553h1v5h-1zM646 359h1v5h-1zM646 553h1v5h-1zM656 359h1v5h-1zM656 553h1v5h-1zM666 359h1v5h-1zM666 548h1v21h-1zM676 359h1v5h-1zM676 553h1v5h-1zM686 359h1v5h-1zM686 553h1v5h-1zM696 359h1v5h-1zM696 553h1v5h-1zM706 359h1v5h-1zM706 553h1v5h-1zM716 359h1v5h-1zM716 553h1v5h-1zM726 359h1v5h-1zM726 553h1v5h-1zM736 359h1v5h-1zM736 553h1v5h-1zM746 359h1v5h-1zM746 553h1v5h-1zM756 359h1v5h-1zM756 553h1v5h-1zM766 359h1v5h-1zM766 548h1v21h-1zM776 359h1v5h-1zM776 553h1v5h-1zM786 359h1v5h-1zM786 553h1v5h-1zM796 359h1v5h-1zM796 553h1v5h-1zM806 359h1v5h-1zM806 553h1v5h-1zM816 359h1v5h-1zM816 553h1v5h-1zM826 359h1v5h-1zM826 553h1v5h-1zM836 359h1v5h-1zM836 553h1v5h-1zM846 359h1v5h-1zM846 553h1v5h-1zM856 359h1v5h-1zM856 553h1v5h-1zM866 359h1v5h-1zM866 548h1v21h-1zM876 359h1v5h-1zM876 553h1v5h-1zM886 359h1v5h-1zM886 553h1v5h-1zM896 359h1v5h-1zM896 553h1v5h-1zM906 359h1v5h-1zM906 553h1v5h-1zM916 359h1v5h-1zM916 553h1v5h-1zM926 359h1v5h-1zM926 553h1v5h-1zM936 359h1v5h-1zM936 553h1v5h-1zM946 359h1v5h-1zM946 553h1v5h-1zM956 359h1v5h-1zM956 553h1v5h-1zM966 359h1v5h-1zM966 548h1v21h-1zM976 359h1v5h-1zM976 553h1v5h-1zM986 359h1v5h-1zM986 553h1v5h-1zM996 359h1v5h-1zM996 553h1v5h-1zM1006 359h1v5h-1zM1006 553h1v5h-1zM1016 359h1v5h-1zM1016 553h1v5h-1zM1026 359h1v5h-1zM1026 553h1v5h-1zM1036 359h1v5h-1zM1036 553h1v5h-1zM1046 359h1v5h-1zM1046 553h1v5h-1zM1056 359h1v5h-1zM1056 553h1v5h-1zM1066 359h1v5h-1zM1066 548h1v21h-1zM1076 359h1v5h-1zM1076 553h1v5h-1zM1086 359h1v5h-1zM1086 553h1v5h-1zM1096 359h1v5h-1zM1096 553h1v5h-1zM1106 359h1v5h-1zM1106 553h1v5h-1zM1116 359h1v5h-1zM1116 553h1v5h-1zM1126 359h1v5h-1zM1126 553h1v5h-1zM1136 359h1v5h-1zM1136 553h1v5h-1zM1146 359h1v5h-1zM1146 553h1v5h-1zM1156 359h1v5h-1zM1156 553h1v5h-1zM1166 359h1v5h-1zM1166 548h1v21h-1zM1176 359h1v5h-1zM1176 553h1v5h-1zM1186 359h1v5h-1zM1186 553h1v5h-1zM1196 359h1v5h-1zM1196 553h1v5h-1zM1206 359h1v5h-1zM1206 553h1v5h-1zM1216 359h1v5h-1zM1216 553h1v5h-1zM1226 359h1v5h-1zM1226 553h1v5h-1zM1236 359h1v5h-1zM1236 553h1v5h-1zM1246 359h1v5h-1zM1246 553h1v5h-1zM1256 359h1v5h-1zM1256 553h1v5h-1zM1266 359h1v5h-1zM1266 548h1v21h-1zM1276 359h1v5h-1zM1276 553h1v5h-1z"/>
<path class="tr" d="M105.5 458V462M106.5 453V462M107.5 455V462M108.5 452V464M109.5 453V466M110.5 452V464M111.5 456V461M112.5 454V462M113.5 456V462M114.5 455V464M115.5 451V466M116.5 455V461M117.5 455V462M118.5 454V463M119.5 455V463M120.5 456V462M121.5 454V462M122.5 452V465M123.5 453V464M124.5 450V464M125.5 455V461M126.5 454V463M127.5 455V463M128.5 452V465M129.5 453V464M130.5 454V462M131.5 454V466M132.5 455V463M133.5 455V462M134.5 455V462M135.5 456V463M136.5 454V463M137.5 451V464M138.5 455V461M139.5 456V460M140.5 456V463M141.5 453V463M142.5 453V466M143.5 452V463M144.5 456V463M145.5 455V463M146.5 454V467M147.5 455V463M148.5 454V464M149.5 451V464M150.5 454V466M151.5 455V460M152.5 453V464M153.5 454V461M154.5 456V463M155.5 452V464M156.5 453V462M157.5 455V463M158.5 455V463M159.5 454V462M160.5 456V463M161.5 454V463M162.5 454V464M163.5 452V465M164.5 455V464M165.5 452V464M166.5 454V463M167.5 454V464M168.5 455V465M169.5 455V462M170.5 454V462M171.5 454V462M172.5 456V462M173.5 450V466M174.5 452V466M175.5 453V463M176.5 455V461M177.5 451V466M178.5 450V467M179.5 453V462M180.5 454V465M181.5 454V467M182.5 454V463M183.5 454V463M184.5 451V464M185.5 451V464M186.5 452V464M187.5 455V461M188.5 455V462M189.5 456V462M190.5 454V462M191.5 455V463M192.5 453V463M193.5 449V466M194.5 450V466M195.5 453V465M196.5 452V462M197.5 452V469M198.5 446V468M199.5 453V463M200.5 450V464M201.5 454V462M202.5 455V463M203.5 455V467M204.5 449V466M205.5 453V462M206.5 453V466M207.5 453V469M208.5 452V462M209.5 452V463M210.5 452V466M211.5 456V462M212.5 453V462M213.5 454V462M214.5 452V468M215.5 446V468M216.5 452V472M217.5 454V461M218.5 454V466M219.5 449V466M220.5 453V461M221.5 452V468M222.5 453V464M223.5 455V464M224.5 454V464M225.5 445V467M226.5 451V467M227.5 454V464M228.5 453V464M229.5 453V461M230.5 446V466M231.5 450V465M232.5 449V465M233.5 453V464M234.5 452V467M235.5 453V470M236.5 454V466M237.5 454V467M238.5 452V466M239.5 454V464M240.5 456V464M241.5 450V465M242.5 453V463M243.5 450V469M244.5 451V462M245.5 448V462M246.5 452V470M247.5 454V465M248.5 454V465M249.5 450V463M250.5 448V467M251.5 455V468M252.5 454V467M253.5 454V471M254.5 447V466M255.5 452V463M256.5 456V465M257.5 453V472M258.5 451V465M259.5 444V465M260.5 449V468M261.5 451V471M262.5 448V472M263.5 449V464M264.5 451V469M265.5 443V466M266.5 451V470M267.5 447V470M268.5 449V469M269.5 446V468M270.5 444V466M271.5 447V466M272.5 448V467M273.5 447V468M274.5 448V470M275.5 447V471M276.5 451V472M277.5 445V471M278.5 451V471M279.5 450V470M280.5 451V467M281.5 449V470M282.5 449V467M283.5 445V471M284.5 448V465M285.5 444V464M286.5 447V471M287.5 455V463M288.5 449V464M289.5 451V472M290.5 446V472M291.5 452V466M292.5 454V465M293.5 445V471M294.5 450V465M295.5 449V466M296.5 448V465M297.5 450V468M298.5 442V463M299.5 446V468M300.5 445V470M301.5 449V465M302.5 452V461M303.5 452V466M304.5 452V464M305.5 445V468M306.5 446V472M307.5 446V473M308.5 453V468M309.5 444V471M310.5 454V470M311.5 450V466M312.5 447V467M313.5 451V470M314.5 447V466M315.5 447V471M316.5 450V469M317.5 447V472M318.5 445V469M319.5 446V471M320.5 447V472M321.5 454V464M322.5 447V466M323.5 446V465M324.5 447V466M325.5 445V476M326.5 448V466M327.5 448V481M328.5 440V465M329.5 449V472M330.5 444V465M331.5 451V468M332.5 444V466M333.5 446V467M334.5 441V470M335.5 446V471M336.5 444V469M337.5 447V469M338.5 446V471M339.5 446V469M340.5 440V471M341.5 447V461M342.5 441V476M343.5 444V469M344.5 449V469M345.5 445V470M346.5 444V465M347.5 447V470M348.5 450V469M349.5 445V466M350.5 441V466M351.5 445V471M352.5 446V472M353.5 446V470M354.5 445V471M355.5 450V470M356.5 446V471M357.5 449V475M358.5 453V469M359.5 447V467M360.5 451V470M361.5 445V474M362.5 449V463M363.5 444V469M364.5 447V469M365.5 443V468M366.5 451V465M367.5 449V461M368.5 452V468M369.5 448V470M370.5 454V472M371.5 447V469M372.5 444V469M373.5 444V471M374.5 442V466M375.5 447V464M376.5 452V463M377.5 452V467M378.5 448V467M379.5 446V473M380.5 446V469M381.5 454V476M382.5 445V472M383.5 446V470M384.5 441V468M385.5 446V464M386.5 451V465M387.5 444V471M388.5 447V468M389.5 447V471M390.5 445V472M391.5 452V470M392.5 448V466M393.5 451V475M394.5 443V472M395.5 454V465M396.5 453V465M397.5 451V464M398.5 444V468M399.5 445V472M400.5 446V472M401.5 444V475M402.5 446V465M403.5 447V466M404.5 452V472M405.5 442V468M406.5 443V467M407.5 448V476M408.5 448V472M409.5 446V467M410.5 450V466M411.5 449V468M412.5 445V462M413.5 446V470M414.5 449V469M415.5 443V469M416.5 449V472M417.5 454V460M418.5 453V471M419.5 452V473M420.5 449V466M421.5 453V472M422.5 442V472M423.5 449V465M424.5 450V466M425.5 451V476M426.5 442V469M427.5 448V471M428.5 447V468M429.5 450V461M430.5 447V471M431.5 452V468M432.5 447V463M433.5 456V472M434.5 446V466M435.5 451V462M436.5 452V470M437.5 447V467M438.5 447V466M439.5 452V467M440.5 449V472M441.5 451V466M442.5 445V468M443.5 451V473M444.5 441V472M445.5 448V470M446.5 446V470M447.5 444V471M448.5 445V471M449.5 444V471M450.5 448V469M451.5 445V470M452.5 455V465M453.5 449V469M454.5 446V475M455.5 450V472M456.5 444V472M457.5 446V470M458.5 444V467M459.5 451V470M460.5 445V468M461.5 442V470M462.5 445V470M463.5 451V471M464.5 453V465M465.5 444V469M466.5 445V470M467.5 448V471M468.5 444V469M469.5 448V468M470.5 446V471M471.5 449V465M472.5 447V477M473.5 454V468M474.5 449V470M475.5 448V480M476.5 445V468M477.5 441V468M478.5 443V470M479.5 450V472M480.5 451V464M481.5 446V465M482.5 449V467M483.5 443V465M484.5 446V470M485.5 449V471M486.5 446V469M487.5 439V486M488.5 446V472M489.5 449V464M490.5 443V471M491.5 445V470M492.5 450V470M493.5 438V465M494.5 452V464M495.5 452V467M496.5 448V469M497.5 445V470M498.5 450V468M499.5 445V469M500.5 444V473M501.5 439V475M502.5 452V473M503.5 443V465M504.5 453V463M505.5 450V467M506.5 447V462M507.5 443V474M508.5 448V473M509.5 441V460M510.5 452V472M511.5 447V474M512.5 454V474M513.5 452V467M514.5 456V480M515.5 439V467M516.5 446V465M517.5 440V475M518.5 446V467M519.5 449V475M520.5 447V463M521.5 448V475M522.5 445V472M523.5 440V469M524.5 445V472M525.5 439V477M526.5 450V468M527.5 439V475M528.5 444V481M529.5 445V468M530.5 451V468M531.5 446V471M532.5 444V468M533.5 440V471M534.5 449V469M535.5 439V469M536.5 444V467M537.5 441V474M538.5 446V473M539.5 444V473M540.5 443V470M541.5 446V469M542.5 453V478M543.5 448V472M544.5 440V475M545.5 439V477M546.5 450V470M547.5 444V475M548.5 446V469M549.5 441V472M550.5 442V472M551.5 448V473M552.5 450V474M553.5 444V465M554.5 449V475M555.5 443V468M556.5 443V472M557.5 444V468M558.5 442V472M559.5 441V475M560.5 450V471M561.5 446V465M562.5 455V468M563.5 453V468M564.5 446V471M565.5 442V467M566.5 445V467M567.5 444V470M568.5 443V469M569.5 440V470M570.5 447V479M571.5 444V477M572.5 446V477M573.5 449V468M574.5 450V476M575.5 443V463M576.5 444V474M577.5 446V475M578.5 447V470M579.5 445V470M580.5 450V467M581.5 437V471M582.5 448V478M583.5 434V468M584.5 446V470M585.5 441V477M586.5 440V470M587.5 441V468M588.5 444V467M589.5 445V475M590.5 452V474M591.5 438V471M592.5 450V468M593.5 445V471M594.5 440V477M595.5 450V468M596.5 447V464M597.5 447V466M598.5 451V463M599.5 452V476M600.5 444V475M601.5 447V466M602.5 439V481M603.5 442V474M604.5 446V470M605.5 444V476M606.5 443V466M607.5 450V470M608.5 443V466M609.5 444V475M610.5 444V463M611.5 454V476M612.5 454V468M613.5 441V473M614.5 441V475M615.5 446V471M616.5 439V472M617.5 441V486M618.5 442V476M619.5 449V470M620.5 446V462M621.5 448V471M622.5 441V473M623.5 443V473M624.5 440V475M625.5 442V476M626.5 439V473M627.5 442V472M628.5 448V474M629.5 441V474M630.5 429V481M631.5 444V480M632.5 434V468M633.5 440V473M634.5 450V475M635.5 444V470M636.5 450V473M637.5 451V472M638.5 442V475M639.5 443V461M640.5 446V483M641.5 447V471M642.5 448V467M643.5 445V469M644.5 447V466M645.5 449V471M646.5 443V468M647.5 444V468M648.5 438V474M649.5 453V469M650.5 447V466M651.5 447V464M652.5 449V465M653.5 446V477M654.5 452V476M655.5 445V476M656.5 442V476M657.5 452V483M658.5 443V468M659.5 441V475M660.5 436V474M661.5 443V473M662.5 443V470M663.5 454V467M664.5 451V471M665.5 446V477M666.5 448V469M667.5 451V463M668.5 455V471M669.5 443V467M670.5 443V473M671.5 444V462M672.5 446V473M673.5 450V470M674.5 449V477M675.5 440V474M676.5 444V473M677.5 446V471M678.5 434V470M679.5 446V469M680.5 437V468M681.5 450V470M682.5 448V474M683.5 444V479M684.5 440V473M685.5 445V477M686.5 453V467M687.5 443V474M688.5 441V482M689.5 439V472M690.5 442V464M691.5 443V477M692.5 455V474M693.5 449V470M694.5 434V471M695.5 448V472M696.5 448V488M697.5 442V473M698.5 446V474M699.5 443V468M700.5 442V477M701.5 447V464M702.5 440V472M703.5 447V467M704.5 451V467M705.5 452V467M706.5 440V467M707.5 443V477M708.5 435V486M709.5 444V473M710.5 446V472M711.5 450V469M712.5 448V475M713.5 442V475M714.5 444V487M715.5 440V468M716.5 429V477M717.5 446V477M718.5 439V470M719.5 451V474M720.5 445V475M721.5 442V472M722.5 436V491M723.5 441V462M724.5 453V471M725.5 443V465M726.5 444V472M727.5 442V471M728.5 445V473M729.5 445V475M730.5 442V481M731.5 455V473M732.5 441V464M733.5 435V474M734.5 454V464M735.5 450V467M736.5 450V477M737.5 439V476M738.5 438V472M739.5 451V469M740.5 453V475M741.5 443V473M742.5 458V473M743.5 443V469M744.5 446V480M745.5 435V464M746.5 453V469M747.5 439V467M748.5 438V477M749.5 439V481M750.5 437V476M751.5 449V476M752.5 442V471M753.5 438V471M754.5 450V465M755.5 444V462M756.5 452V478M757.5 432V469M758.5 441V477M759.5 441V463M760.5 453V470M761.5 441V468M762.5 445V473M763.5 446V470M764.5 450V476M765.5 443V465M766.5 449V468M767.5 444V472M768.5 441V471M769.5 439V477M770.5 451V461M771.5 432V477M772.5 439V480M773.5 448V469M774.5 452V476M775.5 443V476M776.5 448V479M777.5 446V464M778.5 442V474M779.5 449V471M780.5 452V472M781.5 441V468M782.5 437V474M783.5 435V473M784.5 440V470M785.5 436V470M786.5 449V465M787.5 443V478M788.5 447V477M789.5 446V466M790.5 443V473M791.5 445V476M792.5 449V478M793.5 443V471M794.5 445V475M795.5 443V478M796.5 450V469M797.5 437V467M798.5 453V467M799.5 449V467M800.5 448V474M801.5 448V463M802.5 441V471M803.5 455V465M804.5 449V469M805.5 442V473M806.5 438V478M807.5 440V468M808.5 439V465M809.5 435V475M810.5 442V468M811.5 442V475M812.5 435V470M813.5 449V472M814.5 451V467M815.5 447V469M816.5 448V469M817.5 451V468M818.5 442V473M819.5 447V478M820.5 442V486M821.5 442V476M822.5 444V467M823.5 448V474M824.5 449V468M825.5 440V470M826.5 434V467M827.5 440V482M828.5 440V464M829.5 453V466M830.5 447V474M831.5 446V470M832.5 449V467M833.5 448V478M834.5 452V462M835.5 438V475M836.5 434V477M837.5 443V465M838.5 445V466M839.5 452V464M840.5 449V477M841.5 445V469M842.5 446V472M843.5 439V475M844.5 446V481M845.5 446V490M846.5 444V468M847.5 438V472M848.5 451V473M849.5 445V468M850.5 440V478M851.5 443V470M852.5 452V461M853.5 436V483M854.5 446V475M855.5 427V460M856.5 444V471M857.5 455V475M858.5 444V470M859.5 442V470M860.5 451V477M861.5 442V476M862.5 449V475M863.5 436V464M864.5 452V469M865.5 440V472M866.5 452V470M867.5 444V473M868.5 448V470M869.5 436V472M870.5 447V467M871.5 439V468M872.5 443V466M873.5 450V466M874.5 444V477M875.5 439V470M876.5 438V475M877.5 439V473M878.5 440V471M879.5 436V478M880.5 449V474M881.5 452V469M882.5 455V466M883.5 437V465M884.5 448V477M885.5 439V463M886.5 455V465M887.5 448V469M888.5 447V480M889.5 439V466M890.5 438V472M891.5 444V475M892.5 447V478M893.5 445V477M894.5 438V490M895.5 445V465M896.5 435V473M897.5 440V474M898.5 453V470M899.5 432V465M900.5 455V474M901.5 449V476M902.5 449V471M903.5 438V475M904.5 453V468M905.5 439V475M906.5 439V468M907.5 442V478M908.5 445V478M909.5 443V490M910.5 448V478M911.5 448V470M912.5 437V474M913.5 449V482M914.5 444V469M915.5 448V477M916.5 443V474M917.5 440V473M918.5 445V474M919.5 442V463M920.5 434V469M921.5 443V466M922.5 444V474M923.5 444V476M924.5 435V473M925.5 436V474M926.5 436V474M927.5 437V487M928.5 436V472M929.5 436V475M930.5 447V474M931.5 438V476M932.5 447V472M933.5 443V474M934.5 447V465M935.5 440V470M936.5 432V476M937.5 445V477M938.5 436V471M939.5 448V465M940.5 438V478M941.5 440V473M942.5 432V476M943.5 436V469M944.5 438V467M945.5 444V467M946.5 437V467M947.5 449V468M948.5 448V478M949.5 431V488M950.5 422V475M951.5 450V486M952.5 440V475M953.5 448V467M954.5 439V472M955.5 436V478M956.5 439V483M957.5 443V476M958.5 441V475M959.5 448V471M960.5 448V467M961.5 429V476M962.5 442V457M963.5 445V476M964.5 446V490M965.5 446V473M966.5 453V475M967.5 439V486M968.5 442V478M969.5 446V468M970.5 447V471M971.5 437V469M972.5 439V473M973.5 448V473M974.5 440V465M975.5 433V472M976.5 446V484M977.5 461V470M978.5 441V467M979.5 450V465M980.5 447V470M981.5 438V477M982.5 450V466M983.5 433V468M984.5 451V469M985.5 451V468M986.5 457V471M987.5 442V469M988.5 440V473M989.5 438V470M990.5 439V478M991.5 422V476M992.5 431V482M993.5 446V483M994.5 448V478M995.5 444V478M996.5 438V466M997.5 450V471M998.5 436V478M999.5 438V473M1000.5 441V477M1001.5 441V478M1002.5 440V468M1003.5 445V469M1004.5 429V465M1005.5 451V490M1006.5 433V468M1007.5 446V470M1008.5 452V478M1009.5 436V472M1010.5 442V471M1011.5 441V477M1012.5 436V474M1013.5 444V477M1014.5 440V475M1015.5 437V476M1016.5 441V486M1017.5 445V477M1018.5 442V475M1019.5 445V474M1020.5 432V473M1021.5 453V478M1022.5 442V466M1023.5 441V475M1024.5 429V471M1025.5 442V482M1026.5 437V469M1027.5 438V472M1028.5 445V494M1029.5 447V466M1030.5 433V465M1031.5 450V486M1032.5 436V468M1033.5 446V477M1034.5 445V467M1035.5 453V474M1036.5 452V476M1037.5 426V468M1038.5 445V490M1039.5 447V466M1040.5 429V475M1041.5 452V472M1042.5 449V474M1043.5 443V467M1044.5 451V473M1045.5 433V466M1046.5 436V469M1047.5 444V461M1048.5 447V475M1049.5 442V461M1050.5 448V469M1051.5 430V475M1052.5 438V477M1053.5 448V467M1054.5 442V472M1055.5 432V479M1056.5 452V467M1057.5 443V465M1058.5 450V463M1059.5 451V476M1060.5 437V473M1061.5 440V472M1062.5 446V475M1063.5 442V477M1064.5 444V474M1065.5 448V477M1066.5 443V466M1067.5 453V470M1068.5 441V467M1069.5 446V472M1070.5 442V473M1071.5 442V475M1072.5 433V466M1073.5 441V487M1074.5 437V476M1075.5 440V473M1076.5 448V468M1077.5 438V475M1078.5 437V477M1079.5 441V474M1080.5 440V474M1081.5 444V469M1082.5 446V470M1083.5 454V486M1084.5 434V478M1085.5 444V467M1086.5 446V474M1087.5 440V464M1088.5 450V472M1089.5 447V469M1090.5 447V462M1091.5 432V482M1092.5 438V477M1093.5 454V473M1094.5 442V478M1095.5 451V478M1096.5 444V468M1097.5 446V465M1098.5 435V483M1099.5 450V458M1100.5 449V478M1101.5 428V474M1102.5 449V478M1103.5 450V469M1104.5 455V468M1105.5 448V461M1106.5 446V478M1107.5 441V486M1108.5 445V486M1109.5 443V475M1110.5 453V462M1111.5 439V465M1112.5 454V490M1113.5 439V468M1114.5 450V488M1115.5 453V467M1116.5 441V466M1117.5 442V474M1118.5 443V472M1119.5 446V479M1120.5 444V472M1121.5 451V480M1122.5 444V467M1123.5 450V469M1124.5 453V462M1125.5 431V468M1126.5 447V473M1127.5 443V469M1128.5 450V466M1129.5 447V467M1130.5 449V468M1131.5 454V472M1132.5 433V471M1133.5 443V464M1134.5 452V472M1135.5 450V471M1136.5 448V468M1137.5 450V474M1138.5 441V478M1139.5 444V484M1140.5 426V469M1141.5 451V467M1142.5 451V472M1143.5 446V470M1144.5 449V472M1145.5 446V472M1146.5 444V465M1147.5 443V472M1148.5 449V465M1149.5 442V465M1150.5 440V477M1151.5 454V471M1152.5 445V473M1153.5 436V469M1154.5 442V469M1155.5 444V473M1156.5 447V478M1157.5 447V467M1158.5 451V471M1159.5 442V468M1160.5 451V482M1161.5 436V466M1162.5 452V466M1163.5 447V468M1164.5 448V464M1165.5 451V472M1166.5 453V468M1167.5 450V468M1168.5 445V467M1169.5 454V465M1170.5 450V472M1171.5 444V465M1172.5 451V467M1173.5 448V472M1174.5 442V472M1175.5 447V473M1176.5 446V475M1177.5 446V471M1178.5 446V466M1179.5 440V479M1180.5 450V464M1181.5 437V481M1182.5 446V473M1183.5 442V479M1184.5 446V462M1185.5 448V468M1186.5 442V469M1187.5 444V473M1188.5 441V479M1189.5 452V464M1190.5 445V474M1191.5 441V464M1192.5 441V475M1193.5 444V486M1194.5 434V467M1195.5 447V478M1196.5 442V475M1197.5 452V463M1198.5 449V473M1199.5 439V475M1200.5 441V467M1201.5 442V468M1202.5 447V470M1203.5 445V482M1204.5 455V473M1205.5 454V469M1206.5 444V464M1207.5 443V476M1208.5 442V470M1209.5 437V482M1210.5 448V469M1211.5 447V478M1212.5 447V473M1213.5 453V473M1214.5 450V462M1215.5 439V476M1216.5 439V472M1217.5 443V471M1218.5 449V468M1219.5 444V464M1220.5 442V470M1221.5 435V473M1222.5 441V481M1223.5 443V478M1224.5 448V469M1225.5 439V475M1226.5 444V466M1227.5 437V471M1228.5 447V472M1229.5 440V479M1230.5 450V472M1231.5 455V466M1232.5 452V468M1233.5 445V476M1234.5 445V467M1235.5 446V474M1236.5 435V482M1237.5 442V465M1238.5 453V479M1239.5 441V467M1240.5 444V473M1241.5 445V473M1242.5 453V469M1243.5 443V471M1244.5 451V469M1245.5 451V465M1246.5 431V473M1247.5 450V468M1248.5 447V496M1249.5 446V481M1250.5 451V470M1251.5 439V469M1252.5 444V473M1253.5 442V476M1254.5 442V479M1255.5 445V471M1256.5 432V472M1257.5 443V476M1258.5 439V477M1259.5 451V479M1260.5 437V474M1261.5 444V476M1262.5 449V464M1263.5 441V471M1264.5 450V471M1265.5 449V477M1266.5 445V472M1267.5 442V466M1268.5 450V466M1269.5 437V466M1270.5 441V469M1271.5 442V467M1272.5 456V467M1273.5 448V481M1274.5 447V472M1275.5 446V471M1276.5 442V478M1277.5 445V471M1278.5 452V478M1279.5 451V469M1280.5 450V468M1281.5 451V468M1282.5 445V464M1283.5 438V475M1284.5 454V466M1285.5 450V467M1286.5 445V470"/>
<text transform="translate(186 354) scale(0.858 1)" font-size="13.6" x="4.08 12.24 20.4 28.55 36.71 44.87 53.03 61.19 69.35 77.51 85.66 93.82 101.98 110.14 118.3 126.46 134.62 142.77 150.93 159.09 167.25 175.41 183.57 191.72 199.88 208.04 216.2" y="0 0 0 0 -1.6 0 0 -1.6 0 0 0 -1.6 0 0 0 0 0 0 0 0 0 0 0 0 0 0 0">QJLF<tspan class="u">_</tspan>UW<tspan class="u">_</tspan>HNN<tspan class="u">_</tspan><tspan class="z">0</tspan>1&#160;&#160;&#160;Feb1<tspan class="z">0</tspan>,2<tspan class="z">0</tspan>21</text>
<text transform="translate(27 364) scale(0.858 1)" font-size="13.6" x="4.08 12.24 20.4 28.55 36.71">4.<tspan class="z">0</tspan>83</text>
<text transform="translate(20 564) scale(0.858 1)" font-size="13.6" x="4.08 12.24 20.4 28.55 36.71 44.87">-4.<tspan class="z">0</tspan>83</text>
<text transform="translate(55 464) scale(0.858 1)" font-size="13.6" x="4.08"><tspan class="z">0</tspan></text>
<text transform="translate(6 444) scale(0.858 1)" font-size="13.6" x="4.08 12.24 20.4 28.55 36.71 44.87 53.03 61.19 69.35 77.51">cm/sec/sec</text>
<text transform="translate(141 584) scale(0.858 1)" font-size="13.6" x="4.08 12.24 20.4 28.55 36.71 44.87 53.03 61.19">11:56:2<tspan class="z">0</tspan></text>
<text transform="translate(241 584) scale(0.858 1)" font-size="13.6" x="4.08 12.24 20.4 28.55 36.71 44.87 53.03 61.19">11:56:3<tspan class="z">0</tspan></text>
<text transform="translate(341 584) scale(0.858 1)" font-size="13.6" x="4.08 12.24 20.4 28.55 36.71 44.87 53.03 61.19">11:56:4<tspan class="z">0</tspan></text>
<text transform="translate(441 584) scale(0.858 1)" font-size="13.6" x="4.08 12.24 20.4 28.55 36.71 44.87 53.03 61.19">11:56:5<tspan class="z">0</tspan></text>
<text transform="translate(541 584) scale(0.858 1)" font-size="13.6" x="4.08 12.24 20.4 28.55 36.71 44.87 53.03 61.19">11:57:<tspan class="z">0</tspan><tspan class="z">0</tspan></text>
<text transform="translate(641 584) scale(0.858 1)" font-size="13.6" x="4.08 12.24 20.4 28.55 36.71 44.87 53.03 61.19">11:57:1<tspan class="z">0</tspan></text>
<text transform="translate(741 584) scale(0.858 1)" font-size="13.6" x="4.08 12.24 20.4 28.55 36.71 44.87 53.03 61.19">11:57:2<tspan class="z">0</tspan></text>
<text transform="translate(841 584) scale(0.858 1)" font-size="13.6" x="4.08 12.24 20.4 28.55 36.71 44.87 53.03 61.19">11:57:3<tspan class="z">0</tspan></text>
<text transform="translate(941 584) scale(0.858 1)" font-size="13.6" x="4.08 12.24 20.4 28.55 36.71 44.87 53.03 61.19">11:57:4<tspan class="z">0</tspan></text>
<text transform="translate(1041 584) scale(0.858 1)" font-size="13.6" x="4.08 12.24 20.4 28.55 36.71 44.87 53.03 61.19">11:57:5<tspan class="z">0</tspan></text>
<text transform="translate(1141 584) scale(0.858 1)" font-size="13.6" x="4.08 12.24 20.4 28.55 36.71 44.87 53.03 61.19">11:58:<tspan class="z">0</tspan><tspan class="z">0</tspan></text>
<text transform="translate(1241 584) scale(0.858 1)" font-size="13.6" x="4.08 12.24 20.4 28.55 36.71 44.87 53.03 61.19">11:58:1<tspan class="z">0</tspan></text>
</g>
<g id="panel-hnz">
<path class="ax" d="M76 666h1211v1h-1211zM76 866h1211v1h-1211zM86 666h1v201h-1zM1286 666h1v201h-1zM76 766h10v1h-10zM96 667h1v5h-1zM96 861h1v5h-1zM106 667h1v5h-1zM106 861h1v5h-1zM116 667h1v5h-1zM116 861h1v5h-1zM126 667h1v5h-1zM126 861h1v5h-1zM136 667h1v5h-1zM136 861h1v5h-1zM146 667h1v5h-1zM146 861h1v5h-1zM156 667h1v5h-1zM156 861h1v5h-1zM166 667h1v5h-1zM166 856h1v21h-1zM176 667h1v5h-1zM176 861h1v5h-1zM186 667h1v5h-1zM186 861h1v5h-1zM196 667h1v5h-1zM196 861h1v5h-1zM206 667h1v5h-1zM206 861h1v5h-1zM216 667h1v5h-1zM216 861h1v5h-1zM226 667h1v5h-1zM226 861h1v5h-1zM236 667h1v5h-1zM236 861h1v5h-1zM246 667h1v5h-1zM246 861h1v5h-1zM256 667h1v5h-1zM256 861h1v5h-1zM266 667h1v5h-1zM266 856h1v21h-1zM276 667h1v5h-1zM276 861h1v5h-1zM286 667h1v5h-1zM286 861h1v5h-1zM296 667h1v5h-1zM296 861h1v5h-1zM306 667h1v5h-1zM306 861h1v5h-1zM316 667h1v5h-1zM316 861h1v5h-1zM326 667h1v5h-1zM326 861h1v5h-1zM336 667h1v5h-1zM336 861h1v5h-1zM346 667h1v5h-1zM346 861h1v5h-1zM356 667h1v5h-1zM356 861h1v5h-1zM366 667h1v5h-1zM366 856h1v21h-1zM376 667h1v5h-1zM376 861h1v5h-1zM386 667h1v5h-1zM386 861h1v5h-1zM396 667h1v5h-1zM396 861h1v5h-1zM406 667h1v5h-1zM406 861h1v5h-1zM416 667h1v5h-1zM416 861h1v5h-1zM426 667h1v5h-1zM426 861h1v5h-1zM436 667h1v5h-1zM436 861h1v5h-1zM446 667h1v5h-1zM446 861h1v5h-1zM456 667h1v5h-1zM456 861h1v5h-1zM466 667h1v5h-1zM466 856h1v21h-1zM476 667h1v5h-1zM476 861h1v5h-1zM486 667h1v5h-1zM486 861h1v5h-1zM496 667h1v5h-1zM496 861h1v5h-1zM506 667h1v5h-1zM506 861h1v5h-1zM516 667h1v5h-1zM516 861h1v5h-1zM526 667h1v5h-1zM526 861h1v5h-1zM536 667h1v5h-1zM536 861h1v5h-1zM546 667h1v5h-1zM546 861h1v5h-1zM556 667h1v5h-1zM556 861h1v5h-1zM566 667h1v5h-1zM566 856h1v21h-1zM576 667h1v5h-1zM576 861h1v5h-1zM586 667h1v5h-1zM586 861h1v5h-1zM596 667h1v5h-1zM596 861h1v5h-1zM606 667h1v5h-1zM606 861h1v5h-1zM616 667h1v5h-1zM616 861h1v5h-1zM626 667h1v5h-1zM626 861h1v5h-1zM636 667h1v5h-1zM636 861h1v5h-1zM646 667h1v5h-1zM646 861h1v5h-1zM656 667h1v5h-1zM656 861h1v5h-1zM666 667h1v5h-1zM666 856h1v21h-1zM676 667h1v5h-1zM676 861h1v5h-1zM686 667h1v5h-1zM686 861h1v5h-1zM696 667h1v5h-1zM696 861h1v5h-1zM706 667h1v5h-1zM706 861h1v5h-1zM716 667h1v5h-1zM716 861h1v5h-1zM726 667h1v5h-1zM726 861h1v5h-1zM736 667h1v5h-1zM736 861h1v5h-1zM746 667h1v5h-1zM746 861h1v5h-1zM756 667h1v5h-1zM756 861h1v5h-1zM766 667h1v5h-1zM766 856h1v21h-1zM776 667h1v5h-1zM776 861h1v5h-1zM786 667h1v5h-1zM786 861h1v5h-1zM796 667h1v5h-1zM796 861h1v5h-1zM806 667h1v5h-1zM806 861h1v5h-1zM816 667h1v5h-1zM816 861h1v5h-1zM826 667h1v5h-1zM826 861h1v5h-1zM836 667h1v5h-1zM836 861h1v5h-1zM846 667h1v5h-1zM846 861h1v5h-1zM856 667h1v5h-1zM856 861h1v5h-1zM866 667h1v5h-1zM866 856h1v21h-1zM876 667h1v5h-1zM876 861h1v5h-1zM886 667h1v5h-1zM886 861h1v5h-1zM896 667h1v5h-1zM896 861h1v5h-1zM906 667h1v5h-1zM906 861h1v5h-1zM916 667h1v5h-1zM916 861h1v5h-1zM926 667h1v5h-1zM926 861h1v5h-1zM936 667h1v5h-1zM936 861h1v5h-1zM946 667h1v5h-1zM946 861h1v5h-1zM956 667h1v5h-1zM956 861h1v5h-1zM966 667h1v5h-1zM966 856h1v21h-1zM976 667h1v5h-1zM976 861h1v5h-1zM986 667h1v5h-1zM986 861h1v5h-1zM996 667h1v5h-1zM996 861h1v5h-1zM1006 667h1v5h-1zM1006 861h1v5h-1zM1016 667h1v5h-1zM1016 861h1v5h-1zM1026 667h1v5h-1zM1026 861h1v5h-1zM1036 667h1v5h-1zM1036 861h1v5h-1zM1046 667h1v5h-1zM1046 861h1v5h-1zM1056 667h1v5h-1zM1056 861h1v5h-1zM1066 667h1v5h-1zM1066 856h1v21h-1zM1076 667h1v5h-1zM1076 861h1v5h-1zM1086 667h1v5h-1zM1086 861h1v5h-1zM1096 667h1v5h-1zM1096 861h1v5h-1zM1106 667h1v5h-1zM1106 861h1v5h-1zM1116 667h1v5h-1zM1116 861h1v5h-1zM1126 667h1v5h-1zM1126 861h1v5h-1zM1136 667h1v5h-1zM1136 861h1v5h-1zM1146 667h1v5h-1zM1146 861h1v5h-1zM1156 667h1v5h-1zM1156 861h1v5h-1zM1166 667h1v5h-1zM1166 856h1v21h-1zM1176 667h1v5h-1zM1176 861h1v5h-1zM1186 667h1v5h-1zM1186 861h1v5h-1zM1196 667h1v5h-1zM1196 861h1v5h-1zM1206 667h1v5h-1zM1206 861h1v5h-1zM1216 667h1v5h-1zM1216 861h1v5h-1zM1226 667h1v5h-1zM1226 861h1v5h-1zM1236 667h1v5h-1zM1236 861h1v5h-1zM1246 667h1v5h-1zM1246 861h1v5h-1zM1256 667h1v5h-1zM1256 861h1v5h-1zM1266 667h1v5h-1zM1266 856h1v21h-1zM1276 667h1v5h-1zM1276 861h1v5h-1z"/>
<path class="tr" d="M105.5 753V768M106.5 759V772M107.5 761V771M108.5 762V771M109.5 763V771M110.5 761V773M111.5 760V772M112.5 757V775M113.5 757V776M114.5 763V770M115.5 759V774M116.5 758V773M117.5 760V775M118.5 759V772M119.5 757V778M120.5 757V775M121.5 759V775M122.5 761V773M123.5 758V775M124.5 761V777M125.5 756V778M126.5 760V782M127.5 761V778M128.5 758V772M129.5 759V775M130.5 756V776M131.5 762V770M132.5 758V776M133.5 756V772M134.5 758V772M135.5 760V772M136.5 760V770M137.5 756V776M138.5 761V776M139.5 764V778M140.5 756V774M141.5 757V776M142.5 763V772M143.5 757V772M144.5 759V780M145.5 760V773M146.5 752V779M147.5 758V776M148.5 759V776M149.5 758V774M150.5 756V786M151.5 748V777M152.5 759V771M153.5 759V776M154.5 760V771M155.5 756V777M156.5 759V776M157.5 757V774M158.5 758V774M159.5 758V773M160.5 756V775M161.5 760V774M162.5 758V775M163.5 759V777M164.5 752V778M165.5 754V783M166.5 761V775M167.5 758V775M168.5 757V771M169.5 759V778M170.5 759V770M171.5 753V779M172.5 759V779M173.5 758V779M174.5 757V775M175.5 761V774M176.5 763V774M177.5 756V779M178.5 755V779M179.5 745V774M180.5 757V777M181.5 746V780M182.5 758V778M183.5 759V777M184.5 754V773M185.5 757V775M186.5 761V778M187.5 761V778M188.5 759V772M189.5 759V773M190.5 754V776M191.5 756V780M192.5 762V780M193.5 749V773M194.5 760V779M195.5 757V782M196.5 757V786M197.5 751V781M198.5 763V774M199.5 750V776M200.5 750V776M201.5 758V771M202.5 751V782M203.5 753V775M204.5 751V775M205.5 752V775M206.5 754V781M207.5 758V781M208.5 757V775M209.5 759V770M210.5 757V771M211.5 758V774M212.5 752V779M213.5 744V773M214.5 758V786M215.5 749V788M216.5 751V777M217.5 750V770M218.5 749V782M219.5 747V791M220.5 755V780M221.5 740V778M222.5 758V775M223.5 749V778M224.5 748V773M225.5 756V780M226.5 758V779M227.5 756V783M228.5 749V794M229.5 740V782M230.5 761V778M231.5 756V771M232.5 758V777M233.5 758V779M234.5 758V774M235.5 756V774M236.5 762V782M237.5 761V774M238.5 757V771M239.5 754V796M240.5 755V785M241.5 760V787M242.5 744V794M243.5 756V776M244.5 755V787M245.5 747V778M246.5 759V781M247.5 759V776M248.5 754V792M249.5 748V774M250.5 757V794M251.5 744V783M252.5 733V785M253.5 751V789M254.5 745V777M255.5 747V785M256.5 748V779M257.5 745V788M258.5 727V777M259.5 762V789M260.5 759V779M261.5 740V778M262.5 746V783M263.5 735V788M264.5 738V783M265.5 739V783M266.5 746V812M267.5 732V783M268.5 747V776M269.5 745V803M270.5 762V783M271.5 741V780M272.5 750V785M273.5 762V781M274.5 744V785M275.5 733V789M276.5 735V813M277.5 747V794M278.5 738V795M279.5 742V773M280.5 747V784M281.5 733V801M282.5 719V779M283.5 743V791M284.5 739V788M285.5 742V793M286.5 756V791M287.5 734V793M288.5 749V788M289.5 751V784M290.5 751V797M291.5 750V778M292.5 732V781M293.5 743V790M294.5 757V825M295.5 723V782M296.5 742V795M297.5 738V781M298.5 741V787M299.5 747V776M300.5 743V794M301.5 753V796M302.5 743V794M303.5 731V792M304.5 745V791M305.5 731V783M306.5 752V774M307.5 750V783M308.5 739V791M309.5 759V787M310.5 727V804M311.5 747V778M312.5 733V786M313.5 747V803M314.5 722V788M315.5 737V807M316.5 740V800M317.5 746V790M318.5 750V786M319.5 741V782M320.5 742V782M321.5 761V781M322.5 730V776M323.5 758V782M324.5 732V796M325.5 740V816M326.5 745V785M327.5 734V800M328.5 728V797M329.5 701V802M330.5 734V828M331.5 732V801M332.5 742V791M333.5 727V801M334.5 736V795M335.5 729V777M336.5 745V785M337.5 718V784M338.5 736V813M339.5 738V801M340.5 737V800M341.5 738V802M342.5 725V801M343.5 725V812M344.5 740V793M345.5 748V786M346.5 743V803M347.5 738V773M348.5 752V796M349.5 731V787M350.5 748V792M351.5 735V804M352.5 729V803M353.5 748V801M354.5 739V781M355.5 755V797M356.5 727V787M357.5 742V784M358.5 718V826M359.5 748V796M360.5 740V795M361.5 742V786M362.5 748V772M363.5 748V795M364.5 741V789M365.5 741V785M366.5 704V798M367.5 752V800M368.5 749V792M369.5 735V786M370.5 740V800M371.5 727V794M372.5 717V804M373.5 741V799M374.5 757V802M375.5 742V813M376.5 743V797M377.5 748V787M378.5 749V783M379.5 738V807M380.5 750V783M381.5 728V781M382.5 754V806M383.5 755V788M384.5 731V796M385.5 732V809M386.5 739V801M387.5 739V777M388.5 747V789M389.5 740V795M390.5 732V804M391.5 726V800M392.5 733V792M393.5 711V801M394.5 726V810M395.5 697V817M396.5 739V784M397.5 739V801M398.5 730V818M399.5 731V783M400.5 722V803M401.5 733V800M402.5 748V785M403.5 736V801M404.5 727V791M405.5 736V774M406.5 741V818M407.5 742V807M408.5 732V786M409.5 712V796M410.5 729V802M411.5 737V777M412.5 725V782M413.5 723V801M414.5 732V806M415.5 743V798M416.5 737V820M417.5 726V807M418.5 724V808M419.5 726V807M420.5 720V809M421.5 724V818M422.5 720V791M423.5 696V818M424.5 729V808M425.5 740V789M426.5 747V776M427.5 746V811M428.5 720V801M429.5 732V821M430.5 731V788M431.5 732V790M432.5 720V805M433.5 720V804M434.5 710V809M435.5 742V797M436.5 750V800M437.5 724V811M438.5 749V812M439.5 740V812M440.5 735V794M441.5 764V807M442.5 732V798M443.5 745V818M444.5 725V808M445.5 725V781M446.5 726V809M447.5 756V812M448.5 732V799M449.5 749V795M450.5 744V788M451.5 725V804M452.5 731V803M453.5 756V801M454.5 728V812M455.5 702V821M456.5 726V812M457.5 705V798M458.5 741V790M459.5 729V810M460.5 728V811M461.5 733V786M462.5 706V799M463.5 750V795M464.5 721V819M465.5 718V801M466.5 740V809M467.5 731V794M468.5 721V777M469.5 719V795M470.5 753V784M471.5 740V798M472.5 727V797M473.5 732V793M474.5 738V804M475.5 723V820M476.5 719V801M477.5 729V800M478.5 720V809M479.5 699V808M480.5 728V803M481.5 767V789M482.5 745V803M483.5 735V797M484.5 743V788M485.5 728V789M486.5 748V812M487.5 719V787M488.5 750V809M489.5 729V802M490.5 725V805M491.5 730V806M492.5 721V814M493.5 729V807M494.5 723V801M495.5 698V834M496.5 736V790M497.5 741V786M498.5 726V803M499.5 722V808M500.5 733V808M501.5 706V808M502.5 717V813M503.5 723V808M504.5 737V810M505.5 717V847M506.5 702V812M507.5 722V800M508.5 719V808M509.5 740V810M510.5 729V786M511.5 759V795M512.5 750V790M513.5 728V793M514.5 739V780M515.5 709V804M516.5 725V809M517.5 727V778M518.5 743V828M519.5 742V836M520.5 749V798M521.5 723V801M522.5 720V803M523.5 733V814M524.5 719V782M525.5 723V792M526.5 720V805M527.5 720V796M528.5 737V810M529.5 734V807M530.5 726V787M531.5 724V804M532.5 722V801M533.5 712V839M534.5 727V804M535.5 745V779M536.5 729V815M537.5 702V806M538.5 747V786M539.5 734V814M540.5 718V784M541.5 744V803M542.5 759V790M543.5 735V815M544.5 720V811M545.5 719V798M546.5 710V793M547.5 738V835M548.5 726V815M549.5 733V791M550.5 732V815M551.5 733V793M552.5 737V797M553.5 734V813M554.5 722V801M555.5 725V780M556.5 724V813M557.5 721V803M558.5 734V807M559.5 723V823M560.5 703V784M561.5 685V830M562.5 746V805M563.5 739V805M564.5 754V816M565.5 745V804M566.5 746V803M567.5 736V801M568.5 728V817M569.5 716V812M570.5 716V823M571.5 726V816M572.5 740V808M573.5 748V790M574.5 693V796M575.5 725V793M576.5 724V834M577.5 748V784M578.5 759V801M579.5 704V807M580.5 765V838M581.5 722V801M582.5 756V803M583.5 728V794M584.5 747V784M585.5 727V788M586.5 754V792M587.5 743V787M588.5 714V833M589.5 720V795M590.5 749V805M591.5 741V778M592.5 728V796M593.5 730V814M594.5 754V808M595.5 731V815M596.5 744V800M597.5 742V797M598.5 722V798M599.5 709V795M600.5 735V778M601.5 746V789M602.5 744V847M603.5 731V798M604.5 713V809M605.5 734V791M606.5 703V843M607.5 721V809M608.5 714V791M609.5 721V813M610.5 719V810M611.5 720V817M612.5 746V813M613.5 738V808M614.5 738V764M615.5 743V791M616.5 727V827M617.5 725V782M618.5 739V814M619.5 707V773M620.5 748V804M621.5 747V775M622.5 755V783M623.5 732V787M624.5 717V808M625.5 722V806M626.5 735V802M627.5 740V772M628.5 753V813M629.5 732V792M630.5 713V810M631.5 714V792M632.5 733V826M633.5 738V800M634.5 728V785M635.5 737V808M636.5 738V794M637.5 755V798M638.5 722V787M639.5 743V818M640.5 726V794M641.5 708V782M642.5 736V791M643.5 757V795M644.5 732V785M645.5 729V821M646.5 724V795M647.5 721V813M648.5 756V788M649.5 731V793M650.5 722V794M651.5 708V811M652.5 716V809M653.5 718V803M654.5 715V814M655.5 726V797M656.5 745V812M657.5 736V787M658.5 695V793M659.5 723V824M660.5 722V802M661.5 725V792M662.5 733V809M663.5 716V814M664.5 720V815M665.5 715V812M666.5 718V809M667.5 735V802M668.5 740V817M669.5 684V786M670.5 717V847M671.5 743V783M672.5 690V786M673.5 733V829M674.5 737V786M675.5 733V802M676.5 724V802M677.5 726V785M678.5 737V815M679.5 730V818M680.5 718V817M681.5 756V799M682.5 750V792M683.5 726V811M684.5 727V835M685.5 703V820M686.5 715V811M687.5 740V829M688.5 735V772M689.5 713V792M690.5 717V802M691.5 716V818M692.5 722V804M693.5 716V803M694.5 714V813M695.5 755V790M696.5 753V786M697.5 740V781M698.5 741V794M699.5 722V817M700.5 718V819M701.5 734V802M702.5 730V794M703.5 738V782M704.5 708V805M705.5 729V786M706.5 731V794M707.5 740V812M708.5 722V817M709.5 727V802M710.5 728V800M711.5 757V810M712.5 721V815M713.5 724V817M714.5 696V790M715.5 733V834M716.5 685V801M717.5 746V802M718.5 727V791M719.5 741V815M720.5 693V818M721.5 728V788M722.5 752V795M723.5 713V818M724.5 724V815M725.5 759V809M726.5 717V790M727.5 698V830M728.5 714V810M729.5 727V821M730.5 756V820M731.5 732V783M732.5 716V816M733.5 683V812M734.5 720V820M735.5 733V809M736.5 717V788M737.5 724V818M738.5 737V790M739.5 757V788M740.5 746V794M741.5 746V843M742.5 695V773M743.5 746V796M744.5 735V812M745.5 743V796M746.5 749V795M747.5 727V807M748.5 723V793M749.5 736V795M750.5 717V807M751.5 737V800M752.5 750V813M753.5 718V823M754.5 725V798M755.5 702V808M756.5 719V817M757.5 713V782M758.5 719V817M759.5 730V780M760.5 729V806M761.5 723V813M762.5 721V820M763.5 741V780M764.5 719V807M765.5 731V811M766.5 716V779M767.5 687V853M768.5 718V789M769.5 727V836M770.5 721V806M771.5 739V818M772.5 737V811M773.5 736V796M774.5 732V796M775.5 754V830M776.5 715V791M777.5 750V806M778.5 735V797M779.5 703V812M780.5 719V756M781.5 726V809M782.5 704V813M783.5 745V828M784.5 724V790M785.5 740V805M786.5 745V793M787.5 735V802M788.5 748V805M789.5 721V801M790.5 732V819M791.5 752V837M792.5 733V804M793.5 726V793M794.5 695V839M795.5 750V775M796.5 673V799M797.5 734V867M798.5 695V857M799.5 722V847M800.5 726V802M801.5 741V808M802.5 747V801M803.5 727V800M804.5 715V813M805.5 711V809M806.5 721V821M807.5 732V795M808.5 718V821M809.5 706V839M810.5 743V781M811.5 720V814M812.5 717V804M813.5 738V810M814.5 720V822M815.5 723V806M816.5 730V820M817.5 726V811M818.5 718V797M819.5 723V795M820.5 729V823M821.5 743V794M822.5 751V794M823.5 720V767M824.5 741V796M825.5 700V793M826.5 760V801M827.5 748V793M828.5 740V769M829.5 728V803M830.5 723V820M831.5 740V815M832.5 716V802M833.5 740V815M834.5 732V803M835.5 751V798M836.5 704V835M837.5 726V797M838.5 695V808M839.5 727V804M840.5 722V820M841.5 729V809M842.5 750V806M843.5 727V808M844.5 715V827M845.5 754V808M846.5 715V809M847.5 727V765M848.5 738V807M849.5 727V817M850.5 726V821M851.5 726V769M852.5 738V788M853.5 731V805M854.5 724V781M855.5 753V804M856.5 729V774M857.5 759V799M858.5 731V797M859.5 735V809M860.5 734V798M861.5 716V796M862.5 732V797M863.5 725V817M864.5 693V822M865.5 687V820M866.5 727V806M867.5 744V811M868.5 721V801M869.5 729V828M870.5 710V799M871.5 724V807M872.5 717V856M873.5 728V812M874.5 730V795M875.5 738V783M876.5 717V800M877.5 730V809M878.5 724V806M879.5 722V798M880.5 694V810M881.5 746V833M882.5 752V790M883.5 738V807M884.5 724V777M885.5 716V819M886.5 743V800M887.5 728V812M888.5 716V805M889.5 704V782M890.5 741V816M891.5 724V809M892.5 736V783M893.5 735V810M894.5 724V795M895.5 742V800M896.5 720V801M897.5 731V820M898.5 708V803M899.5 732V785M900.5 733V812M901.5 747V791M902.5 736V814M903.5 755V797M904.5 722V799M905.5 737V800M906.5 704V809M907.5 719V841M908.5 721V805M909.5 702V807M910.5 735V807M911.5 721V812M912.5 732V810M913.5 716V813M914.5 740V810M915.5 715V782M916.5 732V797M917.5 738V812M918.5 742V806M919.5 736V805M920.5 739V783M921.5 771V794M922.5 740V814M923.5 754V785M924.5 726V785M925.5 757V803M926.5 715V810M927.5 720V815M928.5 737V789M929.5 710V815M930.5 728V814M931.5 724V809M932.5 746V814M933.5 748V821M934.5 733V783M935.5 735V781M936.5 732V813M937.5 731V796M938.5 729V842M939.5 741V811M940.5 740V768M941.5 743V799M942.5 681V839M943.5 738V813M944.5 744V798M945.5 743V808M946.5 720V800M947.5 703V790M948.5 675V835M949.5 712V789M950.5 759V780M951.5 736V848M952.5 741V812M953.5 690V802M954.5 739V780M955.5 730V833M956.5 739V799M957.5 737V808M958.5 731V782M959.5 701V792M960.5 728V806M961.5 720V804M962.5 698V835M963.5 712V805M964.5 735V806M965.5 715V844M966.5 736V779M967.5 727V814M968.5 723V817M969.5 732V817M970.5 705V820M971.5 743V798M972.5 725V819M973.5 736V803M974.5 702V765M975.5 758V804M976.5 733V790M977.5 724V802M978.5 725V864M979.5 729V853M980.5 716V800M981.5 717V811M982.5 757V782M983.5 743V786M984.5 721V787M985.5 743V794M986.5 726V809M987.5 725V817M988.5 713V841M989.5 717V783M990.5 725V793M991.5 722V808M992.5 739V808M993.5 707V837M994.5 723V810M995.5 713V811M996.5 743V819M997.5 714V819M998.5 729V797M999.5 725V809M1000.5 735V800M1001.5 754V797M1002.5 723V810M1003.5 714V807M1004.5 740V789M1005.5 705V830M1006.5 746V772M1007.5 739V798M1008.5 735V804M1009.5 713V786M1010.5 728V784M1011.5 750V809M1012.5 740V788M1013.5 742V798M1014.5 733V781M1015.5 733V797M1016.5 725V811M1017.5 704V814M1018.5 731V794M1019.5 729V796M1020.5 714V811M1021.5 690V818M1022.5 736V817M1023.5 718V782M1024.5 763V814M1025.5 739V791M1026.5 730V833M1027.5 713V830M1028.5 740V810M1029.5 726V795M1030.5 720V792M1031.5 724V815M1032.5 714V782M1033.5 717V818M1034.5 741V818M1035.5 713V820M1036.5 722V834M1037.5 715V817M1038.5 726V812M1039.5 719V789M1040.5 751V788M1041.5 731V779M1042.5 733V780M1043.5 696V818M1044.5 721V838M1045.5 691V789M1046.5 714V793M1047.5 722V817M1048.5 714V809M1049.5 731V813M1050.5 735V787M1051.5 693V809M1052.5 721V816M1053.5 743V819M1054.5 716V799M1055.5 702V791M1056.5 714V808M1057.5 717V802M1058.5 729V839M1059.5 681V820M1060.5 743V798M1061.5 725V794M1062.5 705V785M1063.5 739V806M1064.5 732V830M1065.5 716V802M1066.5 737V805M1067.5 747V800M1068.5 734V832M1069.5 701V802M1070.5 744V799M1071.5 730V790M1072.5 702V799M1073.5 721V790M1074.5 733V807M1075.5 731V785M1076.5 713V810M1077.5 723V818M1078.5 713V814M1079.5 747V803M1080.5 725V806M1081.5 739V771M1082.5 713V802M1083.5 748V853M1084.5 739V819M1085.5 722V816M1086.5 701V838M1087.5 743V793M1088.5 718V815M1089.5 734V790M1090.5 719V815M1091.5 714V811M1092.5 712V806M1093.5 713V820M1094.5 717V820M1095.5 720V837M1096.5 691V765M1097.5 734V838M1098.5 724V816M1099.5 692V797M1100.5 737V796M1101.5 731V787M1102.5 708V836M1103.5 744V792M1104.5 717V796M1105.5 715V811M1106.5 725V777M1107.5 739V775M1108.5 734V816M1109.5 734V787M1110.5 738V814M1111.5 698V778M1112.5 744V772M1113.5 755V812M1114.5 696V818M1115.5 741V836M1116.5 714V795M1117.5 724V800M1118.5 739V811M1119.5 712V790M1120.5 712V788M1121.5 721V812M1122.5 712V804M1123.5 699V817M1124.5 727V770M1125.5 721V810M1126.5 701V795M1127.5 737V802M1128.5 737V837M1129.5 740V817M1130.5 747V809M1131.5 744V811M1132.5 715V792M1133.5 746V814M1134.5 734V794M1135.5 719V812M1136.5 732V817M1137.5 717V805M1138.5 732V817M1139.5 741V838M1140.5 722V808M1141.5 698V833M1142.5 732V821M1143.5 738V814M1144.5 716V803M1145.5 759V814M1146.5 722V788M1147.5 712V810M1148.5 712V828M1149.5 728V804M1150.5 725V817M1151.5 728V818M1152.5 705V804M1153.5 733V797M1154.5 716V829M1155.5 744V792M1156.5 727V785M1157.5 761V818M1158.5 713V808M1159.5 756V813M1160.5 722V795M1161.5 721V820M1162.5 719V811M1163.5 712V804M1164.5 714V820M1165.5 708V810M1166.5 726V792M1167.5 729V795M1168.5 716V801M1169.5 702V807M1170.5 731V812M1171.5 724V814M1172.5 741V814M1173.5 753V804M1174.5 711V810M1175.5 716V795M1176.5 741V794M1177.5 706V800M1178.5 736V825M1179.5 720V813M1180.5 726V805M1181.5 711V816M1182.5 704V834M1183.5 727V796M1184.5 717V807M1185.5 726V808M1186.5 737V804M1187.5 752V808M1188.5 750V809M1189.5 712V811M1190.5 741V792M1191.5 727V791M1192.5 735V787M1193.5 758V797M1194.5 701V792M1195.5 714V805M1196.5 730V825M1197.5 717V770M1198.5 723V788M1199.5 734V793M1200.5 740V782M1201.5 731V791M1202.5 713V808M1203.5 724V805M1204.5 741V790M1205.5 738V795M1206.5 731V813M1207.5 737V815M1208.5 724V813M1209.5 715V811M1210.5 735V808M1211.5 714V788M1212.5 740V813M1213.5 721V799M1214.5 729V809M1215.5 717V809M1216.5 724V808M1217.5 723V809M1218.5 711V802M1219.5 768V811M1220.5 721V829M1221.5 698V793M1222.5 724V852M1223.5 763V817M1224.5 722V818M1225.5 708V809M1226.5 725V811M1227.5 720V813M1228.5 726V811M1229.5 725V804M1230.5 724V788M1231.5 721V821M1232.5 717V819M1233.5 740V807M1234.5 716V821M1235.5 724V818M1236.5 700V827M1237.5 714V809M1238.5 722V813M1239.5 741V794M1240.5 713V821M1241.5 723V816M1242.5 716V815M1243.5 726V801M1244.5 742V781M1245.5 714V816M1246.5 715V819M1247.5 736V799M1248.5 706V797M1249.5 729V841M1250.5 735V771M1251.5 735V811M1252.5 739V806M1253.5 722V803M1254.5 746V783M1255.5 721V778M1256.5 727V803M1257.5 723V821M1258.5 719V797M1259.5 749V809M1260.5 724V805M1261.5 725V808M1262.5 714V812M1263.5 746V822M1264.5 753V792M1265.5 711V810M1266.5 741V797M1267.5 744V784M1268.5 725V811M1269.5 740V785M1270.5 719V807M1271.5 717V789M1272.5 718V816M1273.5 700V829M1274.5 723V795M1275.5 734V799M1276.5 718V810M1277.5 712V823M1278.5 706V772M1279.5 724V820M1280.5 714V811M1281.5 744V800M1282.5 715V778M1283.5 745V802M1284.5 714V817M1285.5 713V808M1286.5 732V796"/>
<text transform="translate(186 662) scale(0.858 1)" font-size="13.6" x="4.08 12.24 20.4 28.55 36.71 44.87 53.03 61.19 69.35 77.51 85.66 93.82 101.98 110.14 118.3 126.46 134.62 142.77 150.93 159.09 167.25 175.41 183.57 191.72 199.88 208.04 216.2" y="0 0 0 0 -1.6 0 0 -1.6 0 0 0 -1.6 0 0 0 0 0 0 0 0 0 0 0 0 0 0 0">QJLF<tspan class="u">_</tspan>UW<tspan class="u">_</tspan>HNZ<tspan class="u">_</tspan><tspan class="z">0</tspan>1&#160;&#160;&#160;Feb1<tspan class="z">0</tspan>,2<tspan class="z">0</tspan>21</text>
<text transform="translate(27 672) scale(0.858 1)" font-size="13.6" x="4.08 12.24 20.4 28.55 36.71">4.<tspan class="z">0</tspan>83</text>
<text transform="translate(20 872) scale(0.858 1)" font-size="13.6" x="4.08 12.24 20.4 28.55 36.71 44.87">-4.<tspan class="z">0</tspan>83</text>
<text transform="translate(55 772) scale(0.858 1)" font-size="13.6" x="4.08"><tspan class="z">0</tspan></text>
<text transform="translate(6 752) scale(0.858 1)" font-size="13.6" x="4.08 12.24 20.4 28.55 36.71 44.87 53.03 61.19 69.35 77.51">cm/sec/sec</text>
<text transform="translate(141 892) scale(0.858 1)" font-size="13.6" x="4.08 12.24 20.4 28.55 36.71 44.87 53.03 61.19">11:56:2<tspan class="z">0</tspan></text>
<text transform="translate(241 892) scale(0.858 1)" font-size="13.6" x="4.08 12.24 20.4 28.55 36.71 44.87 53.03 61.19">11:56:3<tspan class="z">0</tspan></text>
<text transform="translate(341 892) scale(0.858 1)" font-size="13.6" x="4.08 12.24 20.4 28.55 36.71 44.87 53.03 61.19">11:56:4<tspan class="z">0</tspan></text>
<text transform="translate(441 892) scale(0.858 1)" font-size="13.6" x="4.08 12.24 20.4 28.55 36.71 44.87 53.03 61.19">11:56:5<tspan class="z">0</tspan></text>
<text transform="translate(541 892) scale(0.858 1)" font-size="13.6" x="4.08 12.24 20.4 28.55 36.71 44.87 53.03 61.19">11:57:<tspan class="z">0</tspan><tspan class="z">0</tspan></text>
<text transform="translate(641 892) scale(0.858 1)" font-size="13.6" x="4.08 12.24 20.4 28.55 36.71 44.87 53.03 61.19">11:57:1<tspan class="z">0</tspan></text>
<text transform="translate(741 892) scale(0.858 1)" font-size="13.6" x="4.08 12.24 20.4 28.55 36.71 44.87 53.03 61.19">11:57:2<tspan class="z">0</tspan></text>
<text transform="translate(841 892) scale(0.858 1)" font-size="13.6" x="4.08 12.24 20.4 28.55 36.71 44.87 53.03 61.19">11:57:3<tspan class="z">0</tspan></text>
<text transform="translate(941 892) scale(0.858 1)" font-size="13.6" x="4.08 12.24 20.4 28.55 36.71 44.87 53.03 61.19">11:57:4<tspan class="z">0</tspan></text>
<text transform="translate(1041 892) scale(0.858 1)" font-size="13.6" x="4.08 12.24 20.4 28.55 36.71 44.87 53.03 61.19">11:57:5<tspan class="z">0</tspan></text>
<text transform="translate(1141 892) scale(0.858 1)" font-size="13.6" x="4.08 12.24 20.4 28.55 36.71 44.87 53.03 61.19">11:58:<tspan class="z">0</tspan><tspan class="z">0</tspan></text>
<text transform="translate(1241 892) scale(0.858 1)" font-size="13.6" x="4.08 12.24 20.4 28.55 36.71 44.87 53.03 61.19">11:58:1<tspan class="z">0</tspan></text>
</g>
</svg>
</body></html>
